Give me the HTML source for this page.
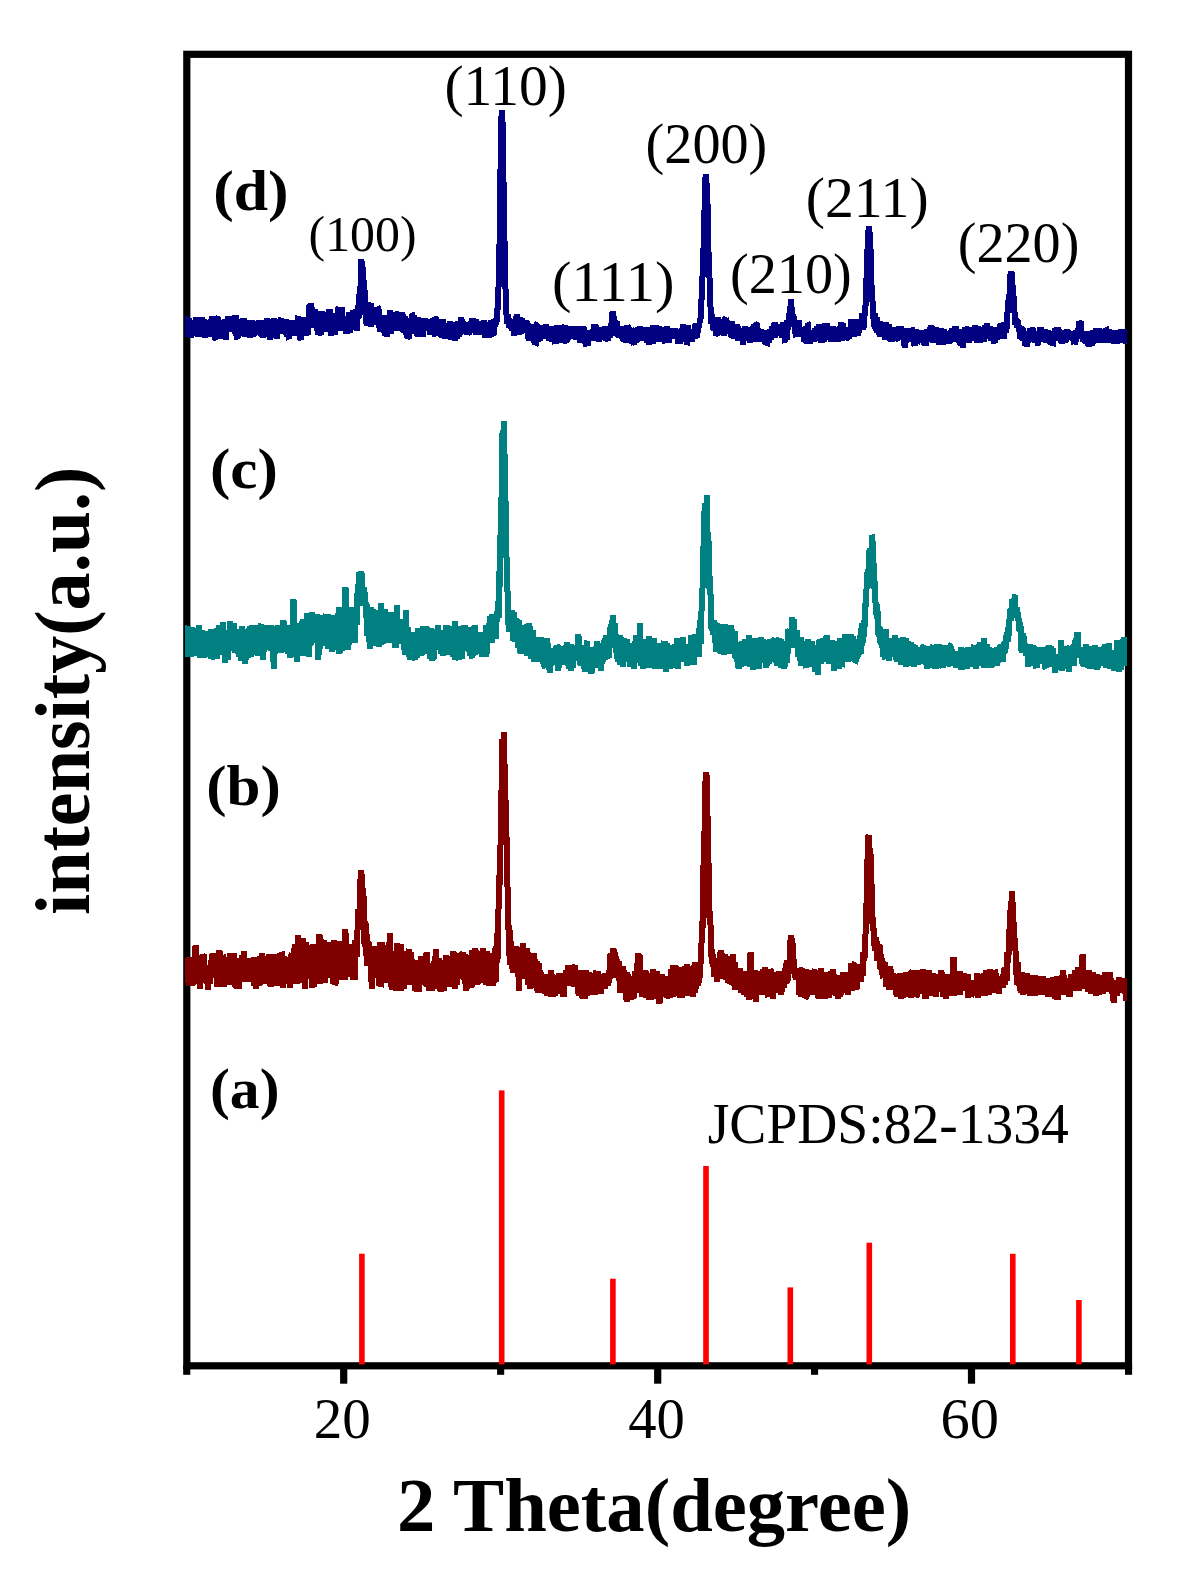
<!DOCTYPE html>
<html><head><meta charset="utf-8"><title>XRD</title>
<style>html,body{margin:0;padding:0;background:#fff}svg{display:block}</style></head>
<body>
<svg width="1179" height="1590" viewBox="0 0 1179 1590">
<rect width="1179" height="1590" fill="#fff"/>
<rect x="186.8" y="54.3" width="941.7" height="1311.5" fill="none" stroke="#000" stroke-width="7.2"/>
<g fill="#000">
<rect x="340.1" y="1365" width="7.2" height="18.7"/>
<rect x="654.1" y="1365" width="7.2" height="18.7"/>
<rect x="967.9" y="1365" width="7.2" height="18.7"/>
<rect x="183.2" y="1365" width="7.1" height="9.8"/>
<rect x="497.1" y="1365" width="7.1" height="9.8"/>
<rect x="811.0" y="1365" width="7.1" height="9.8"/>
<rect x="1125.0" y="1365" width="7.1" height="9.8"/>
</g>
<g fill="#ff0000">
<rect x="359.1" y="1253.7" width="5.6" height="110.7"/>
<rect x="498.9" y="1090.4" width="5.6" height="274.0"/>
<rect x="610.1" y="1278.7" width="5.6" height="85.7"/>
<rect x="703.2" y="1166.0" width="5.6" height="198.4"/>
<rect x="787.5" y="1287.4" width="5.6" height="77.0"/>
<rect x="866.5" y="1242.7" width="5.6" height="121.7"/>
<rect x="1010.0" y="1253.8" width="5.6" height="110.6"/>
<rect x="1076.1" y="1300.0" width="5.6" height="64.4"/>
</g>
<clipPath id="cp"><rect x="185" y="58" width="942" height="1304"/></clipPath>
<g clip-path="url(#cp)" shape-rendering="crispEdges" fill="none" stroke-linejoin="miter" stroke-miterlimit="2" stroke-linecap="butt" stroke-width="6.0">
<path stroke="#000080" d="M183.0 323.1L183.4 330.9L183.8 332.6L184.2 320.1L184.6 321.2L185.0 337.2L185.4 317.3L185.8 317.8L186.2 333.9L186.6 327.2L187.0 321.9L187.4 324.5L187.8 327.4L188.2 320.1L188.6 318.1L189.0 332.1L189.4 331.0L189.8 328.9L190.2 335.7L190.6 330.3L191.0 338.3L191.4 321.8L191.8 328.0L192.2 326.1L192.6 323.5L193.0 328.7L193.4 322.1L193.8 333.9L194.2 335.2L194.6 319.8L195.0 325.6L195.4 321.0L195.8 317.0L196.2 333.7L196.6 325.2L197.0 320.3L197.4 331.5L197.8 322.6L198.2 337.0L198.6 323.5L199.0 320.0L199.4 323.3L199.8 326.1L200.2 328.3L200.6 336.5L201.0 331.8L201.4 324.3L201.8 317.6L202.2 320.5L202.6 337.4L203.0 327.2L203.4 332.7L203.8 320.9L204.2 321.2L204.6 338.1L205.0 333.5L205.4 328.2L205.8 328.3L206.2 323.4L206.6 324.6L207.0 321.2L207.4 337.1L207.8 329.2L208.2 322.1L208.6 334.2L209.0 323.3L209.4 320.6L209.8 331.2L210.2 337.0L210.6 319.4L211.0 334.6L211.4 321.8L211.8 319.1L212.2 316.7L212.6 321.2L213.0 329.0L213.4 323.9L213.8 331.4L214.2 319.5L214.6 322.6L215.0 322.9L215.4 338.7L215.8 339.0L216.2 327.2L216.6 328.7L217.0 325.3L217.4 332.9L217.8 317.6L218.2 317.2L218.6 323.3L219.0 319.8L219.4 332.0L219.8 330.5L220.2 327.3L220.6 330.5L221.0 332.1L221.4 334.9L221.8 338.5L222.2 323.3L222.6 332.5L223.0 322.1L223.4 327.2L223.8 333.3L224.2 335.2L224.6 332.7L225.0 318.9L225.4 326.2L225.8 322.9L226.2 339.7L226.6 321.9L227.0 322.5L227.4 323.1L227.8 315.7L228.2 330.9L228.6 325.8L229.0 316.3L229.4 323.4L229.8 315.7L230.2 327.2L230.6 320.5L231.0 317.4L231.4 319.7L231.8 329.3L232.2 331.6L232.6 325.6L233.0 331.7L233.4 325.3L233.8 320.0L234.2 322.7L234.6 323.6L235.0 333.6L235.4 317.8L235.8 317.8L236.2 328.4L236.6 337.9L237.0 338.3L237.4 335.5L237.8 323.5L238.2 338.3L238.6 318.9L239.0 323.5L239.4 328.9L239.8 319.7L240.2 334.3L240.6 332.6L241.0 334.5L241.4 333.9L241.8 324.0L242.2 333.9L242.6 322.1L243.0 318.5L243.4 322.0L243.8 322.8L244.2 317.8L244.6 337.2L245.0 325.2L245.4 319.7L245.8 329.4L246.2 325.8L246.6 334.4L247.0 325.8L247.4 335.8L247.8 327.8L248.2 330.1L248.6 332.2L249.0 329.0L249.4 323.8L249.8 338.2L250.2 320.5L250.6 325.2L251.0 330.0L251.4 319.9L251.8 322.7L252.2 335.5L252.6 335.0L253.0 331.8L253.4 337.0L253.8 334.0L254.2 325.0L254.6 332.3L255.0 326.5L255.4 334.4L255.8 326.4L256.2 320.9L256.6 334.6L257.0 330.5L257.4 331.7L257.8 328.5L258.2 333.6L258.6 327.4L259.0 330.0L259.4 319.9L259.8 329.7L260.2 334.9L260.6 333.0L261.0 335.3L261.4 329.4L261.8 337.2L262.2 321.9L262.6 337.5L263.0 327.8L263.4 322.5L263.8 333.4L264.2 330.0L264.6 328.9L265.0 336.1L265.4 320.3L265.8 328.4L266.2 323.4L266.6 325.4L267.0 325.0L267.4 318.4L267.8 327.2L268.2 335.8L268.6 323.3L269.0 337.2L269.4 322.6L269.8 330.2L270.2 339.9L270.6 320.3L271.0 338.0L271.4 327.9L271.8 319.2L272.2 325.2L272.6 321.4L273.0 331.8L273.4 328.4L273.8 318.5L274.2 322.3L274.6 318.7L275.0 332.3L275.4 326.1L275.8 326.2L276.2 333.7L276.6 338.9L277.0 321.3L277.4 322.8L277.8 326.8L278.2 329.5L278.6 320.6L279.0 320.0L279.4 323.2L279.8 326.6L280.2 333.8L280.6 331.2L281.0 319.1L281.4 318.6L281.8 325.7L282.2 333.0L282.6 332.6L283.0 320.8L283.4 330.8L283.8 331.8L284.2 321.7L284.6 329.1L285.0 322.3L285.4 319.0L285.8 328.3L286.2 319.4L286.6 331.5L287.0 334.4L287.4 336.3L287.8 326.8L288.2 320.2L288.6 336.3L289.0 336.1L289.4 338.3L289.8 330.9L290.2 332.4L290.6 326.4L291.0 322.6L291.4 324.9L291.8 333.6L292.2 325.6L292.6 332.7L293.0 328.4L293.4 326.6L293.8 336.3L294.2 320.0L294.6 326.4L295.0 320.0L295.4 335.9L295.8 327.2L296.2 324.1L296.6 320.5L297.0 328.4L297.4 323.7L297.8 317.8L298.2 316.0L298.6 323.8L299.0 328.8L299.4 328.9L299.8 337.8L300.2 338.9L300.6 339.6L301.0 336.4L301.4 329.0L301.8 329.4L302.2 326.4L302.6 326.5L303.0 318.3L303.4 336.2L303.8 322.8L304.2 317.3L304.6 328.3L305.0 335.2L305.4 328.8L305.8 327.6L306.2 336.0L306.6 323.0L307.0 318.4L307.4 332.4L307.8 328.5L308.2 334.8L308.6 320.4L309.0 328.2L309.4 305.9L309.8 304.8L310.2 319.1L310.6 308.3L311.0 303.7L311.4 305.1L311.8 311.5L312.2 310.7L312.6 317.6L313.0 327.9L313.4 315.7L313.8 312.4L314.2 324.1L314.6 309.6L315.0 320.4L315.4 318.9L315.8 320.4L316.2 310.7L316.6 323.5L317.0 325.3L317.4 328.9L317.8 334.7L318.2 319.0L318.6 327.3L319.0 321.6L319.4 315.3L319.8 333.0L320.2 329.4L320.6 335.0L321.0 332.3L321.4 335.3L321.8 314.4L322.2 311.5L322.6 316.5L323.0 322.4L323.4 329.7L323.8 323.0L324.2 324.9L324.6 331.2L325.0 312.4L325.4 328.6L325.8 312.2L326.2 318.2L326.6 331.3L327.0 330.2L327.4 322.3L327.8 318.5L328.2 331.7L328.6 316.0L329.0 308.9L329.4 314.6L329.8 309.1L330.2 330.6L330.6 312.7L331.0 335.9L331.4 316.1L331.8 318.6L332.2 326.2L332.6 319.2L333.0 321.9L333.4 315.3L333.8 323.2L334.2 313.4L334.6 317.9L335.0 335.0L335.4 316.9L335.8 315.4L336.2 325.5L336.6 330.7L337.0 315.1L337.4 317.0L337.8 307.6L338.2 327.2L338.6 322.2L339.0 310.5L339.4 310.7L339.8 326.3L340.2 325.1L340.6 330.3L341.0 327.3L341.4 317.9L341.8 310.4L342.2 307.0L342.6 325.7L343.0 322.6L343.4 325.6L343.8 317.8L344.2 316.8L344.6 323.0L345.0 320.7L345.4 327.2L345.8 333.7L346.2 331.5L346.6 319.4L347.0 319.3L347.4 334.4L347.8 320.4L348.2 331.1L348.6 311.9L349.0 321.1L349.4 322.8L349.8 330.7L350.2 332.7L350.6 313.7L351.0 326.1L351.4 326.0L351.8 312.3L352.2 329.1L352.6 320.3L353.0 330.4L353.4 309.6L353.8 319.1L354.2 314.4L354.6 323.7L355.0 323.6L355.4 321.5L355.8 316.7L356.2 321.6L356.6 318.0L357.0 331.4L357.4 319.0L357.8 317.6L358.2 308.9L358.6 304.5L359.0 317.7L359.4 294.1L359.8 301.4L360.2 286.2L360.6 288.5L361.0 259.5L361.4 274.7L361.8 267.1L362.2 261.6L362.6 268.5L363.0 275.0L363.4 276.4L363.8 290.9L364.2 289.1L364.6 290.9L365.0 313.5L365.4 311.2L365.8 324.1L366.2 307.3L366.6 321.7L367.0 325.6L367.4 322.8L367.8 324.4L368.2 303.1L368.6 303.8L369.0 306.2L369.4 310.7L369.8 304.9L370.2 306.4L370.6 303.3L371.0 327.0L371.4 312.1L371.8 318.9L372.2 314.9L372.6 322.6L373.0 324.6L373.4 314.6L373.8 318.2L374.2 307.4L374.6 311.2L375.0 309.3L375.4 310.9L375.8 311.2L376.2 317.1L376.6 312.4L377.0 313.1L377.4 325.2L377.8 307.6L378.2 307.9L378.6 309.6L379.0 328.2L379.4 323.6L379.8 326.1L380.2 331.5L380.6 315.4L381.0 331.5L381.4 317.1L381.8 324.0L382.2 328.7L382.6 332.2L383.0 320.5L383.4 325.5L383.8 315.6L384.2 320.7L384.6 336.0L385.0 334.5L385.4 327.8L385.8 332.7L386.2 335.5L386.6 322.7L387.0 336.5L387.4 323.6L387.8 316.2L388.2 323.6L388.6 324.1L389.0 325.5L389.4 324.5L389.8 310.3L390.2 323.8L390.6 330.7L391.0 326.1L391.4 333.7L391.8 323.7L392.2 329.9L392.6 313.6L393.0 328.5L393.4 316.7L393.8 325.7L394.2 313.4L394.6 321.0L395.0 327.5L395.4 326.1L395.8 325.3L396.2 311.8L396.6 313.5L397.0 313.1L397.4 322.4L397.8 331.2L398.2 325.2L398.6 316.9L399.0 312.6L399.4 320.3L399.8 320.9L400.2 320.4L400.6 323.5L401.0 315.6L401.4 329.1L401.8 315.9L402.2 312.1L402.6 317.9L403.0 331.5L403.4 314.8L403.8 318.1L404.2 333.2L404.6 321.1L405.0 332.8L405.4 315.6L405.8 334.7L406.2 320.5L406.6 319.6L407.0 332.4L407.4 338.1L407.8 337.7L408.2 333.3L408.6 337.0L409.0 338.4L409.4 328.2L409.8 318.0L410.2 332.5L410.6 321.7L411.0 319.6L411.4 323.9L411.8 314.2L412.2 314.5L412.6 320.2L413.0 327.3L413.4 330.3L413.8 334.1L414.2 314.7L414.6 333.0L415.0 327.1L415.4 330.0L415.8 328.6L416.2 320.1L416.6 321.2L417.0 336.2L417.4 325.7L417.8 337.2L418.2 317.5L418.6 320.0L419.0 329.5L419.4 326.3L419.8 318.6L420.2 322.0L420.6 323.0L421.0 324.4L421.4 332.1L421.8 322.2L422.2 327.7L422.6 330.7L423.0 337.0L423.4 320.6L423.8 319.5L424.2 321.3L424.6 321.6L425.0 320.4L425.4 318.8L425.8 321.5L426.2 321.9L426.6 327.2L427.0 330.8L427.4 325.5L427.8 321.7L428.2 320.2L428.6 323.4L429.0 321.5L429.4 327.3L429.8 334.8L430.2 331.8L430.6 322.1L431.0 319.1L431.4 320.1L431.8 327.6L432.2 326.7L432.6 333.5L433.0 322.6L433.4 326.6L433.8 335.3L434.2 332.6L434.6 330.6L435.0 336.4L435.4 319.2L435.8 319.1L436.2 319.2L436.6 325.1L437.0 333.5L437.4 334.1L437.8 327.3L438.2 331.1L438.6 330.2L439.0 319.7L439.4 329.3L439.8 324.2L440.2 326.1L440.6 319.8L441.0 320.6L441.4 337.4L441.8 334.8L442.2 335.3L442.6 325.9L443.0 319.3L443.4 323.5L443.8 331.8L444.2 336.5L444.6 335.3L445.0 338.4L445.4 325.4L445.8 334.2L446.2 323.6L446.6 332.3L447.0 324.8L447.4 333.6L447.8 333.4L448.2 328.8L448.6 327.7L449.0 333.6L449.4 328.2L449.8 326.5L450.2 321.1L450.6 325.0L451.0 336.7L451.4 339.3L451.8 327.2L452.2 336.3L452.6 335.7L453.0 322.6L453.4 324.1L453.8 333.4L454.2 327.3L454.6 341.2L455.0 330.3L455.4 337.4L455.8 336.3L456.2 325.6L456.6 337.6L457.0 325.9L457.4 338.8L457.8 320.8L458.2 329.1L458.6 333.0L459.0 326.0L459.4 336.7L459.8 324.6L460.2 334.6L460.6 317.5L461.0 320.8L461.4 318.0L461.8 323.2L462.2 321.1L462.6 322.1L463.0 331.1L463.4 326.0L463.8 326.7L464.2 322.7L464.6 331.1L465.0 325.4L465.4 330.5L465.8 334.1L466.2 328.5L466.6 325.3L467.0 322.3L467.4 335.1L467.8 332.7L468.2 333.6L468.6 322.4L469.0 326.5L469.4 335.1L469.8 322.5L470.2 333.2L470.6 327.4L471.0 321.0L471.4 324.1L471.8 318.5L472.2 330.5L472.6 331.8L473.0 318.5L473.4 323.8L473.8 332.7L474.2 321.2L474.6 327.4L475.0 332.5L475.4 328.1L475.8 319.5L476.2 334.9L476.6 331.9L477.0 328.9L477.4 325.2L477.8 331.2L478.2 328.7L478.6 324.2L479.0 324.5L479.4 322.6L479.8 324.1L480.2 324.6L480.6 331.5L481.0 330.1L481.4 330.3L481.8 335.0L482.2 321.0L482.6 326.9L483.0 321.0L483.4 327.9L483.8 321.7L484.2 320.9L484.6 323.8L485.0 330.2L485.4 337.7L485.8 328.1L486.2 336.6L486.6 326.4L487.0 327.4L487.4 331.1L487.8 323.7L488.2 331.2L488.6 333.9L489.0 338.2L489.4 322.3L489.8 335.7L490.2 330.4L490.6 330.2L491.0 320.1L491.4 336.6L491.8 325.1L492.2 330.1L492.6 329.2L493.0 335.4L493.4 328.2L493.8 334.6L494.2 318.8L494.6 326.2L495.0 323.8L495.4 322.1L495.8 324.1L496.2 322.3L496.6 317.4L497.0 321.7L497.4 307.7L497.8 309.7L498.2 300.4L498.6 283.3L499.0 273.5L499.4 254.6L499.8 219.0L500.2 194.7L500.6 162.1L501.0 147.3L501.4 118.1L501.8 110.4L502.2 114.5L502.6 124.7L503.0 135.5L503.4 178.3L503.8 192.1L504.2 227.1L504.6 244.8L505.0 273.4L505.4 285.4L505.8 296.9L506.2 308.3L506.6 316.0L507.0 319.7L507.4 323.7L507.8 317.0L508.2 314.8L508.6 319.1L509.0 321.4L509.4 327.7L509.8 324.7L510.2 323.3L510.6 319.5L511.0 329.3L511.4 319.7L511.8 327.3L512.2 330.5L512.6 329.2L513.0 320.3L513.4 324.4L513.8 336.0L514.2 319.4L514.6 330.3L515.0 324.7L515.4 327.2L515.8 322.0L516.2 316.2L516.6 324.6L517.0 313.9L517.4 330.9L517.8 330.0L518.2 322.1L518.6 325.6L519.0 325.7L519.4 334.8L519.8 316.9L520.2 322.2L520.6 324.7L521.0 332.5L521.4 331.7L521.8 326.0L522.2 318.3L522.6 331.0L523.0 326.8L523.4 321.6L523.8 332.0L524.2 328.5L524.6 325.5L525.0 323.9L525.4 327.4L525.8 320.7L526.2 322.4L526.6 332.7L527.0 324.4L527.4 321.5L527.8 328.5L528.2 338.0L528.6 338.5L529.0 335.7L529.4 340.3L529.8 337.3L530.2 335.4L530.6 329.9L531.0 323.8L531.4 334.1L531.8 331.5L532.2 337.4L532.6 325.3L533.0 336.2L533.4 325.0L533.8 339.8L534.2 342.2L534.6 326.0L535.0 331.8L535.4 344.4L535.8 344.0L536.2 338.5L536.6 328.5L537.0 325.7L537.4 326.0L537.8 341.3L538.2 338.4L538.6 331.2L539.0 336.9L539.4 339.7L539.8 329.7L540.2 340.6L540.6 330.2L541.0 331.2L541.4 325.9L541.8 327.6L542.2 334.2L542.6 324.8L543.0 334.4L543.4 328.0L543.8 338.4L544.2 327.2L544.6 328.1L545.0 328.4L545.4 333.0L545.8 336.1L546.2 324.6L546.6 334.6L547.0 334.2L547.4 332.7L547.8 330.1L548.2 328.2L548.6 341.0L549.0 333.2L549.4 337.2L549.8 326.5L550.2 331.7L550.6 327.7L551.0 333.1L551.4 340.8L551.8 334.7L552.2 341.4L552.6 331.6L553.0 336.1L553.4 336.2L553.8 337.8L554.2 332.6L554.6 340.9L555.0 344.2L555.4 325.7L555.8 328.3L556.2 335.7L556.6 332.6L557.0 336.4L557.4 327.9L557.8 324.9L558.2 334.3L558.6 343.4L559.0 326.0L559.4 331.8L559.8 331.6L560.2 336.5L560.6 334.7L561.0 324.8L561.4 327.9L561.8 336.5L562.2 331.6L562.6 329.0L563.0 340.6L563.4 338.4L563.8 329.3L564.2 332.6L564.6 325.0L565.0 328.2L565.4 341.8L565.8 342.7L566.2 341.0L566.6 341.1L567.0 341.6L567.4 339.1L567.8 339.5L568.2 332.2L568.6 337.8L569.0 338.5L569.4 334.0L569.8 336.4L570.2 331.7L570.6 337.6L571.0 336.5L571.4 325.9L571.8 338.6L572.2 330.6L572.6 327.3L573.0 328.1L573.4 331.6L573.8 334.9L574.2 331.2L574.6 328.6L575.0 338.3L575.4 331.2L575.8 340.1L576.2 328.9L576.6 336.5L577.0 330.1L577.4 338.4L577.8 334.7L578.2 335.7L578.6 326.1L579.0 338.9L579.4 332.8L579.8 340.4L580.2 342.4L580.6 329.2L581.0 326.8L581.4 339.6L581.8 326.3L582.2 342.0L582.6 333.8L583.0 341.0L583.4 326.9L583.8 328.0L584.2 337.9L584.6 337.7L585.0 343.6L585.4 333.3L585.8 337.3L586.2 346.4L586.6 333.9L587.0 335.6L587.4 339.2L587.8 346.0L588.2 331.3L588.6 339.9L589.0 334.4L589.4 333.5L589.8 330.4L590.2 333.6L590.6 334.8L591.0 330.7L591.4 331.9L591.8 333.6L592.2 337.2L592.6 332.3L593.0 329.7L593.4 340.6L593.8 326.7L594.2 324.0L594.6 338.4L595.0 326.3L595.4 324.1L595.8 328.8L596.2 328.9L596.6 330.1L597.0 339.8L597.4 330.4L597.8 327.7L598.2 328.9L598.6 341.6L599.0 332.0L599.4 330.4L599.8 337.3L600.2 339.9L600.6 332.2L601.0 337.9L601.4 328.5L601.8 330.6L602.2 335.1L602.6 329.2L603.0 329.7L603.4 327.6L603.8 328.4L604.2 338.3L604.6 337.6L605.0 325.9L605.4 330.7L605.8 338.0L606.2 341.0L606.6 335.9L607.0 338.9L607.4 330.1L607.8 339.8L608.2 340.7L608.6 333.6L609.0 330.7L609.4 327.1L609.8 337.2L610.2 336.0L610.6 322.9L611.0 329.7L611.4 334.2L611.8 315.0L612.2 314.4L612.6 311.4L613.0 317.8L613.4 318.0L613.8 328.7L614.2 316.6L614.6 320.9L615.0 335.5L615.4 320.2L615.8 325.0L616.2 327.8L616.6 321.2L617.0 327.0L617.4 333.7L617.8 335.0L618.2 335.8L618.6 337.0L619.0 336.4L619.4 325.7L619.8 336.0L620.2 333.8L620.6 326.7L621.0 330.0L621.4 327.0L621.8 338.9L622.2 329.5L622.6 328.5L623.0 340.4L623.4 339.8L623.8 341.3L624.2 337.9L624.6 333.2L625.0 334.2L625.4 335.7L625.8 336.7L626.2 343.1L626.6 330.8L627.0 339.1L627.4 324.9L627.8 327.2L628.2 340.0L628.6 327.3L629.0 331.7L629.4 338.8L629.8 334.3L630.2 331.5L630.6 335.7L631.0 341.1L631.4 341.3L631.8 329.0L632.2 329.5L632.6 333.4L633.0 331.8L633.4 343.4L633.8 344.8L634.2 332.2L634.6 330.3L635.0 333.6L635.4 338.6L635.8 338.7L636.2 332.1L636.6 334.8L637.0 340.0L637.4 339.9L637.8 327.0L638.2 337.9L638.6 339.0L639.0 340.9L639.4 331.5L639.8 326.0L640.2 331.1L640.6 329.4L641.0 330.4L641.4 338.3L641.8 336.2L642.2 337.3L642.6 337.4L643.0 328.7L643.4 327.3L643.8 333.0L644.2 340.4L644.6 335.9L645.0 337.7L645.4 334.0L645.8 336.4L646.2 340.2L646.6 335.7L647.0 339.4L647.4 342.7L647.8 339.8L648.2 342.0L648.6 329.4L649.0 328.8L649.4 344.5L649.8 332.0L650.2 332.6L650.6 329.1L651.0 337.7L651.4 326.9L651.8 340.6L652.2 331.9L652.6 325.4L653.0 343.5L653.4 339.9L653.8 335.0L654.2 337.9L654.6 341.1L655.0 337.8L655.4 329.3L655.8 325.2L656.2 341.4L656.6 337.7L657.0 328.5L657.4 337.5L657.8 337.9L658.2 331.9L658.6 341.5L659.0 329.1L659.4 326.9L659.8 329.4L660.2 329.8L660.6 339.6L661.0 336.0L661.4 327.2L661.8 332.7L662.2 328.1L662.6 339.0L663.0 341.7L663.4 328.0L663.8 334.9L664.2 330.0L664.6 330.5L665.0 338.9L665.4 343.3L665.8 331.1L666.2 335.6L666.6 331.1L667.0 326.3L667.4 335.8L667.8 328.0L668.2 337.6L668.6 343.1L669.0 328.7L669.4 336.9L669.8 329.8L670.2 339.2L670.6 330.3L671.0 337.2L671.4 336.4L671.8 335.0L672.2 328.4L672.6 339.1L673.0 330.1L673.4 337.0L673.8 331.2L674.2 330.3L674.6 334.9L675.0 328.4L675.4 335.9L675.8 330.1L676.2 335.0L676.6 334.1L677.0 338.9L677.4 330.5L677.8 330.9L678.2 343.9L678.6 336.7L679.0 335.7L679.4 340.7L679.8 332.0L680.2 343.6L680.6 338.9L681.0 336.1L681.4 329.0L681.8 337.7L682.2 339.0L682.6 336.3L683.0 338.4L683.4 324.3L683.8 336.5L684.2 339.6L684.6 333.5L685.0 327.3L685.4 336.2L685.8 331.6L686.2 328.5L686.6 345.0L687.0 343.3L687.4 339.6L687.8 341.3L688.2 325.4L688.6 335.2L689.0 329.0L689.4 332.2L689.8 336.7L690.2 338.5L690.6 333.7L691.0 330.3L691.4 333.5L691.8 329.8L692.2 342.3L692.6 329.3L693.0 332.4L693.4 335.2L693.8 330.1L694.2 334.2L694.6 334.4L695.0 324.4L695.4 339.1L695.8 330.7L696.2 323.2L696.6 338.1L697.0 323.8L697.4 333.8L697.8 329.4L698.2 325.1L698.6 326.6L699.0 327.4L699.4 324.0L699.8 319.8L700.2 320.4L700.6 317.3L701.0 317.1L701.4 302.4L701.8 292.1L702.2 296.7L702.6 271.6L703.0 267.9L703.4 251.1L703.8 242.3L704.2 212.4L704.6 210.2L705.0 184.8L705.4 177.4L705.8 182.0L706.2 173.8L706.6 186.0L707.0 196.1L707.4 197.8L707.8 223.3L708.2 231.8L708.6 257.0L709.0 255.3L709.4 271.0L709.8 293.5L710.2 297.9L710.6 309.1L711.0 324.2L711.4 317.9L711.8 314.5L712.2 316.8L712.6 324.3L713.0 328.3L713.4 328.6L713.8 324.3L714.2 321.4L714.6 320.6L715.0 323.3L715.4 323.3L715.8 335.6L716.2 326.0L716.6 319.9L717.0 328.2L717.4 324.5L717.8 316.9L718.2 334.4L718.6 334.8L719.0 323.6L719.4 334.4L719.8 327.7L720.2 331.1L720.6 329.9L721.0 330.4L721.4 324.6L721.8 319.1L722.2 331.0L722.6 325.0L723.0 325.5L723.4 331.5L723.8 330.4L724.2 336.0L724.6 325.5L725.0 330.0L725.4 320.2L725.8 320.4L726.2 322.3L726.6 322.0L727.0 324.3L727.4 320.0L727.8 332.2L728.2 322.9L728.6 322.2L729.0 331.6L729.4 330.1L729.8 330.3L730.2 333.6L730.6 331.3L731.0 324.7L731.4 337.3L731.8 321.5L732.2 337.7L732.6 330.1L733.0 329.3L733.4 332.0L733.8 330.7L734.2 338.9L734.6 337.7L735.0 336.4L735.4 327.1L735.8 330.8L736.2 324.5L736.6 336.6L737.0 324.2L737.4 330.6L737.8 326.4L738.2 339.1L738.6 340.4L739.0 329.3L739.4 339.8L739.8 327.8L740.2 337.9L740.6 330.4L741.0 334.5L741.4 338.0L741.8 333.8L742.2 331.4L742.6 338.3L743.0 341.6L743.4 344.8L743.8 332.6L744.2 331.5L744.6 328.2L745.0 330.2L745.4 326.7L745.8 330.3L746.2 338.6L746.6 327.7L747.0 337.3L747.4 331.4L747.8 330.7L748.2 335.7L748.6 335.1L749.0 335.4L749.4 329.5L749.8 337.2L750.2 343.0L750.6 327.0L751.0 328.1L751.4 336.9L751.8 331.6L752.2 329.8L752.6 342.1L753.0 329.5L753.4 339.9L753.8 334.3L754.2 323.9L754.6 328.4L755.0 325.2L755.4 333.4L755.8 340.1L756.2 324.9L756.6 324.6L757.0 324.9L757.4 329.6L757.8 327.8L758.2 342.0L758.6 338.2L759.0 340.6L759.4 334.1L759.8 338.8L760.2 337.7L760.6 331.3L761.0 338.6L761.4 332.7L761.8 336.0L762.2 342.2L762.6 331.1L763.0 329.9L763.4 341.9L763.8 335.3L764.2 330.7L764.6 333.5L765.0 332.9L765.4 343.9L765.8 336.5L766.2 344.7L766.6 336.8L767.0 345.1L767.4 344.6L767.8 338.4L768.2 342.4L768.6 333.5L769.0 342.4L769.4 338.9L769.8 328.7L770.2 335.2L770.6 336.7L771.0 338.1L771.4 339.3L771.8 326.2L772.2 337.5L772.6 330.7L773.0 332.7L773.4 329.7L773.8 336.6L774.2 327.0L774.6 322.3L775.0 337.5L775.4 335.0L775.8 336.2L776.2 325.7L776.6 327.2L777.0 334.7L777.4 324.4L777.8 335.6L778.2 334.5L778.6 335.3L779.0 325.8L779.4 330.5L779.8 327.7L780.2 334.6L780.6 330.6L781.0 334.3L781.4 334.0L781.8 337.6L782.2 336.4L782.6 321.7L783.0 332.6L783.4 327.8L783.8 324.1L784.2 332.2L784.6 340.0L785.0 339.9L785.4 327.7L785.8 328.7L786.2 336.2L786.6 339.5L787.0 322.1L787.4 320.8L787.8 329.8L788.2 326.4L788.6 327.3L789.0 313.3L789.4 315.1L789.8 317.3L790.2 307.2L790.6 305.8L791.0 298.7L791.4 312.9L791.8 308.2L792.2 309.0L792.6 316.1L793.0 321.5L793.4 323.4L793.8 315.7L794.2 322.4L794.6 320.9L795.0 331.5L795.4 333.3L795.8 333.0L796.2 336.9L796.6 331.3L797.0 331.6L797.4 323.4L797.8 332.3L798.2 324.6L798.6 329.7L799.0 320.4L799.4 328.2L799.8 332.6L800.2 333.2L800.6 332.3L801.0 327.3L801.4 335.1L801.8 336.0L802.2 335.3L802.6 332.2L803.0 328.7L803.4 336.1L803.8 327.0L804.2 342.0L804.6 331.4L805.0 329.6L805.4 332.2L805.8 326.1L806.2 340.6L806.6 343.2L807.0 341.4L807.4 337.9L807.8 323.8L808.2 324.1L808.6 337.2L809.0 331.7L809.4 335.7L809.8 344.2L810.2 338.9L810.6 336.2L811.0 335.6L811.4 337.5L811.8 337.7L812.2 335.8L812.6 337.6L813.0 331.0L813.4 337.4L813.8 341.5L814.2 333.0L814.6 333.0L815.0 341.4L815.4 328.5L815.8 328.8L816.2 339.3L816.6 326.4L817.0 329.2L817.4 339.7L817.8 330.5L818.2 337.5L818.6 336.6L819.0 323.8L819.4 328.1L819.8 341.3L820.2 331.5L820.6 333.3L821.0 342.7L821.4 327.9L821.8 343.2L822.2 337.6L822.6 337.7L823.0 326.9L823.4 338.3L823.8 341.8L824.2 333.8L824.6 327.3L825.0 327.5L825.4 325.6L825.8 330.9L826.2 337.4L826.6 323.2L827.0 328.9L827.4 328.9L827.8 329.4L828.2 332.7L828.6 333.8L829.0 328.7L829.4 339.7L829.8 334.8L830.2 331.6L830.6 342.0L831.0 337.1L831.4 327.5L831.8 342.2L832.2 335.6L832.6 331.6L833.0 329.8L833.4 326.5L833.8 329.3L834.2 329.8L834.6 330.4L835.0 341.6L835.4 334.6L835.8 327.9L836.2 331.7L836.6 333.5L837.0 327.8L837.4 334.7L837.8 335.0L838.2 341.5L838.6 332.3L839.0 336.2L839.4 335.6L839.8 326.5L840.2 333.4L840.6 331.0L841.0 325.5L841.4 322.5L841.8 340.9L842.2 322.6L842.6 336.7L843.0 327.7L843.4 323.1L843.8 339.5L844.2 334.9L844.6 331.1L845.0 339.4L845.4 337.4L845.8 332.2L846.2 337.4L846.6 337.5L847.0 327.0L847.4 335.9L847.8 338.6L848.2 333.8L848.6 335.2L849.0 338.3L849.4 334.7L849.8 329.0L850.2 330.7L850.6 334.4L851.0 332.0L851.4 322.0L851.8 322.0L852.2 326.1L852.6 336.3L853.0 326.1L853.4 327.9L853.8 336.6L854.2 323.6L854.6 325.4L855.0 324.3L855.4 320.1L855.8 332.4L856.2 325.0L856.6 326.9L857.0 326.1L857.4 321.8L857.8 335.9L858.2 318.9L858.6 325.4L859.0 332.4L859.4 325.1L859.8 327.2L860.2 323.3L860.6 326.8L861.0 321.8L861.4 323.8L861.8 315.4L862.2 315.1L862.6 323.3L863.0 328.0L863.4 329.9L863.8 324.4L864.2 316.5L864.6 314.9L865.0 310.7L865.4 306.0L865.8 303.9L866.2 284.4L866.6 276.9L867.0 272.6L867.4 252.1L867.8 240.2L868.2 246.6L868.6 225.7L869.0 239.1L869.4 240.6L869.8 231.6L870.2 249.1L870.6 249.7L871.0 259.4L871.4 282.8L871.8 291.7L872.2 299.2L872.6 301.8L873.0 318.4L873.4 315.9L873.8 326.5L874.2 323.9L874.6 313.0L875.0 327.1L875.4 328.5L875.8 330.0L876.2 326.3L876.6 316.9L877.0 332.6L877.4 325.6L877.8 322.3L878.2 323.2L878.6 323.6L879.0 334.9L879.4 322.0L879.8 337.1L880.2 321.0L880.6 333.4L881.0 324.3L881.4 329.0L881.8 322.9L882.2 336.0L882.6 323.2L883.0 329.5L883.4 333.0L883.8 331.3L884.2 327.8L884.6 329.1L885.0 340.0L885.4 324.8L885.8 322.2L886.2 337.7L886.6 337.3L887.0 334.1L887.4 330.9L887.8 340.0L888.2 330.8L888.6 323.9L889.0 331.5L889.4 333.4L889.8 334.4L890.2 341.1L890.6 327.3L891.0 342.2L891.4 337.0L891.8 341.3L892.2 335.8L892.6 333.6L893.0 333.8L893.4 331.8L893.8 333.9L894.2 335.6L894.6 339.1L895.0 327.2L895.4 332.3L895.8 334.2L896.2 339.7L896.6 338.1L897.0 336.7L897.4 337.5L897.8 333.3L898.2 339.4L898.6 339.8L899.0 334.7L899.4 326.4L899.8 331.5L900.2 328.4L900.6 327.0L901.0 328.9L901.4 338.6L901.8 330.9L902.2 333.0L902.6 333.0L903.0 330.3L903.4 338.0L903.8 336.1L904.2 346.2L904.6 341.1L905.0 347.8L905.4 345.6L905.8 338.5L906.2 329.2L906.6 331.7L907.0 328.9L907.4 339.0L907.8 327.8L908.2 336.7L908.6 331.1L909.0 334.2L909.4 339.3L909.8 331.1L910.2 328.6L910.6 330.5L911.0 342.1L911.4 335.6L911.8 331.7L912.2 330.4L912.6 330.3L913.0 336.0L913.4 341.3L913.8 338.3L914.2 343.8L914.6 346.1L915.0 337.8L915.4 333.4L915.8 341.4L916.2 329.0L916.6 341.3L917.0 343.9L917.4 342.1L917.8 330.0L918.2 338.4L918.6 342.3L919.0 335.4L919.4 343.2L919.8 331.1L920.2 337.3L920.6 337.7L921.0 341.6L921.4 334.8L921.8 331.9L922.2 340.1L922.6 329.9L923.0 334.9L923.4 337.3L923.8 343.4L924.2 343.9L924.6 339.9L925.0 341.8L925.4 341.3L925.8 345.9L926.2 336.8L926.6 338.6L927.0 328.8L927.4 331.9L927.8 333.0L928.2 332.5L928.6 337.9L929.0 331.8L929.4 337.7L929.8 341.3L930.2 326.8L930.6 328.9L931.0 332.9L931.4 325.1L931.8 327.5L932.2 336.1L932.6 333.7L933.0 343.0L933.4 336.7L933.8 339.1L934.2 330.8L934.6 330.8L935.0 339.4L935.4 335.8L935.8 341.9L936.2 330.8L936.6 328.9L937.0 339.1L937.4 329.2L937.8 328.0L938.2 333.3L938.6 338.6L939.0 333.2L939.4 344.7L939.8 335.0L940.2 331.5L940.6 335.4L941.0 336.3L941.4 328.2L941.8 336.3L942.2 329.6L942.6 344.8L943.0 337.8L943.4 332.5L943.8 329.5L944.2 332.1L944.6 333.3L945.0 337.1L945.4 338.1L945.8 338.6L946.2 333.8L946.6 337.6L947.0 337.1L947.4 343.8L947.8 333.6L948.2 337.9L948.6 343.7L949.0 334.1L949.4 342.6L949.8 330.7L950.2 332.1L950.6 339.1L951.0 340.0L951.4 338.2L951.8 336.1L952.2 328.3L952.6 341.4L953.0 334.8L953.4 340.7L953.8 341.3L954.2 328.9L954.6 341.8L955.0 325.9L955.4 335.7L955.8 329.1L956.2 326.5L956.6 335.2L957.0 329.5L957.4 340.4L957.8 335.5L958.2 333.0L958.6 329.1L959.0 341.9L959.4 341.4L959.8 344.7L960.2 337.1L960.6 346.2L961.0 330.0L961.4 345.8L961.8 343.3L962.2 331.9L962.6 347.8L963.0 331.5L963.4 342.4L963.8 331.9L964.2 338.4L964.6 339.9L965.0 326.7L965.4 330.6L965.8 341.6L966.2 335.4L966.6 330.8L967.0 330.6L967.4 331.8L967.8 331.8L968.2 336.2L968.6 343.3L969.0 336.7L969.4 329.6L969.8 333.3L970.2 335.1L970.6 334.3L971.0 326.9L971.4 338.7L971.8 340.3L972.2 336.8L972.6 327.8L973.0 340.4L973.4 339.8L973.8 337.9L974.2 331.7L974.6 339.1L975.0 324.9L975.4 336.6L975.8 334.5L976.2 337.0L976.6 326.4L977.0 342.9L977.4 326.7L977.8 327.6L978.2 336.3L978.6 337.6L979.0 330.6L979.4 332.4L979.8 343.1L980.2 332.0L980.6 333.7L981.0 327.4L981.4 335.6L981.8 338.1L982.2 338.8L982.6 329.6L983.0 331.7L983.4 336.4L983.8 341.8L984.2 338.1L984.6 328.4L985.0 325.9L985.4 326.4L985.8 334.0L986.2 328.7L986.6 336.9L987.0 326.5L987.4 323.6L987.8 332.0L988.2 335.1L988.6 325.9L989.0 329.2L989.4 329.0L989.8 326.0L990.2 338.7L990.6 328.4L991.0 339.1L991.4 340.0L991.8 338.6L992.2 329.8L992.6 329.5L993.0 337.9L993.4 337.5L993.8 343.4L994.2 329.2L994.6 342.5L995.0 334.0L995.4 339.9L995.8 329.5L996.2 329.5L996.6 339.8L997.0 327.0L997.4 331.1L997.8 333.6L998.2 338.2L998.6 331.8L999.0 337.6L999.4 329.5L999.8 336.8L1000.2 324.2L1000.6 326.5L1001.0 323.8L1001.4 324.3L1001.8 335.7L1002.2 330.5L1002.6 335.8L1003.0 338.8L1003.4 324.6L1003.8 335.1L1004.2 339.0L1004.6 327.5L1005.0 323.6L1005.4 330.4L1005.8 331.2L1006.2 332.3L1006.6 327.9L1007.0 319.8L1007.4 313.2L1007.8 311.5L1008.2 308.4L1008.6 297.7L1009.0 294.1L1009.4 298.9L1009.8 285.0L1010.2 274.4L1010.6 279.7L1011.0 271.5L1011.4 273.6L1011.8 273.1L1012.2 272.2L1012.6 289.0L1013.0 292.8L1013.4 307.1L1013.8 295.9L1014.2 311.4L1014.6 313.1L1015.0 316.9L1015.4 324.8L1015.8 318.4L1016.2 322.7L1016.6 319.0L1017.0 327.6L1017.4 326.2L1017.8 320.2L1018.2 324.7L1018.6 328.8L1019.0 332.1L1019.4 324.8L1019.8 334.5L1020.2 338.4L1020.6 330.5L1021.0 326.6L1021.4 328.8L1021.8 339.9L1022.2 335.9L1022.6 329.0L1023.0 329.4L1023.4 340.6L1023.8 338.5L1024.2 339.5L1024.6 331.1L1025.0 345.8L1025.4 334.3L1025.8 336.4L1026.2 334.9L1026.6 346.5L1027.0 341.8L1027.4 340.7L1027.8 338.2L1028.2 342.4L1028.6 337.7L1029.0 336.6L1029.4 330.9L1029.8 340.1L1030.2 327.8L1030.6 339.8L1031.0 339.5L1031.4 333.4L1031.8 328.0L1032.2 328.9L1032.6 327.9L1033.0 336.6L1033.4 331.9L1033.8 341.7L1034.2 332.7L1034.6 333.2L1035.0 339.0L1035.4 342.5L1035.8 337.5L1036.2 331.6L1036.6 332.5L1037.0 340.8L1037.4 341.8L1037.8 345.3L1038.2 339.0L1038.6 341.6L1039.0 339.2L1039.4 336.1L1039.8 338.8L1040.2 328.8L1040.6 327.6L1041.0 330.0L1041.4 331.5L1041.8 340.4L1042.2 338.7L1042.6 337.3L1043.0 339.5L1043.4 331.9L1043.8 341.3L1044.2 340.8L1044.6 329.4L1045.0 334.6L1045.4 334.1L1045.8 332.4L1046.2 343.0L1046.6 334.4L1047.0 341.5L1047.4 337.7L1047.8 330.0L1048.2 336.1L1048.6 341.9L1049.0 335.5L1049.4 335.5L1049.8 332.6L1050.2 338.3L1050.6 345.3L1051.0 331.5L1051.4 344.3L1051.8 339.5L1052.2 334.3L1052.6 343.2L1053.0 343.2L1053.4 343.3L1053.8 334.9L1054.2 333.3L1054.6 336.3L1055.0 339.1L1055.4 330.7L1055.8 330.6L1056.2 332.4L1056.6 327.6L1057.0 340.7L1057.4 335.6L1057.8 335.9L1058.2 338.3L1058.6 340.6L1059.0 338.7L1059.4 332.9L1059.8 332.4L1060.2 333.2L1060.6 343.2L1061.0 341.3L1061.4 329.7L1061.8 339.2L1062.2 343.5L1062.6 339.9L1063.0 337.7L1063.4 339.4L1063.8 340.0L1064.2 341.5L1064.6 332.8L1065.0 342.8L1065.4 338.4L1065.8 333.5L1066.2 342.4L1066.6 329.1L1067.0 339.2L1067.4 331.8L1067.8 335.7L1068.2 330.8L1068.6 332.5L1069.0 333.6L1069.4 330.9L1069.8 340.2L1070.2 335.4L1070.6 333.8L1071.0 337.1L1071.4 331.7L1071.8 334.8L1072.2 336.9L1072.6 337.6L1073.0 334.7L1073.4 339.8L1073.8 342.1L1074.2 344.0L1074.6 338.1L1075.0 344.0L1075.4 343.2L1075.8 338.4L1076.2 329.9L1076.6 336.8L1077.0 334.5L1077.4 336.1L1077.8 328.2L1078.2 337.2L1078.6 325.4L1079.0 333.2L1079.4 320.8L1079.8 323.0L1080.2 326.3L1080.6 321.2L1081.0 325.2L1081.4 331.2L1081.8 334.6L1082.2 338.7L1082.6 334.6L1083.0 341.9L1083.4 332.5L1083.8 338.0L1084.2 340.6L1084.6 330.7L1085.0 341.3L1085.4 341.7L1085.8 337.9L1086.2 343.4L1086.6 340.5L1087.0 336.2L1087.4 343.6L1087.8 339.7L1088.2 342.1L1088.6 346.3L1089.0 341.4L1089.4 342.3L1089.8 342.9L1090.2 334.0L1090.6 332.0L1091.0 332.9L1091.4 338.7L1091.8 345.6L1092.2 337.0L1092.6 343.4L1093.0 333.2L1093.4 330.5L1093.8 334.3L1094.2 341.0L1094.6 343.1L1095.0 336.6L1095.4 334.1L1095.8 340.1L1096.2 328.5L1096.6 332.6L1097.0 339.1L1097.4 328.8L1097.8 339.2L1098.2 342.1L1098.6 329.6L1099.0 340.0L1099.4 328.7L1099.8 330.2L1100.2 332.6L1100.6 343.0L1101.0 328.7L1101.4 334.6L1101.8 334.4L1102.2 330.4L1102.6 342.5L1103.0 331.1L1103.4 340.5L1103.8 334.6L1104.2 336.8L1104.6 337.2L1105.0 336.4L1105.4 338.9L1105.8 340.6L1106.2 330.1L1106.6 329.9L1107.0 335.8L1107.4 330.8L1107.8 338.0L1108.2 343.2L1108.6 336.5L1109.0 330.9L1109.4 329.6L1109.8 335.6L1110.2 338.8L1110.6 340.2L1111.0 340.2L1111.4 336.6L1111.8 343.3L1112.2 338.6L1112.6 340.8L1113.0 330.5L1113.4 337.6L1113.8 331.4L1114.2 333.1L1114.6 334.2L1115.0 338.1L1115.4 330.4L1115.8 339.9L1116.2 335.1L1116.6 332.6L1117.0 343.9L1117.4 339.8L1117.8 335.2L1118.2 332.3L1118.6 338.1L1119.0 342.4L1119.4 338.4L1119.8 335.0L1120.2 331.3L1120.6 332.0L1121.0 339.3L1121.4 328.8L1121.8 340.4L1122.2 336.5L1122.6 332.0L1123.0 329.7L1123.4 334.9L1123.8 343.2L1124.2 331.3L1124.6 333.4L1125.0 330.9L1125.4 340.5L1125.8 343.9L1126.2 337.9L1126.6 334.0L1127.0 343.9L1127.4 338.2L1127.8 343.8L1128.2 335.0L1128.6 331.6L1129.0 330.7L1129.4 333.9L1129.8 336.4"/>
<path stroke="#008080" d="M183.0 639.1L183.4 631.6L183.8 625.4L184.2 645.5L184.6 637.6L185.0 657.1L185.4 653.0L185.8 653.8L186.2 626.2L186.6 645.5L187.0 647.8L187.4 627.4L187.8 642.6L188.2 636.5L188.6 631.7L189.0 652.5L189.4 638.5L189.8 626.9L190.2 636.6L190.6 656.8L191.0 637.8L191.4 630.8L191.8 626.7L192.2 643.4L192.6 649.4L193.0 640.3L193.4 656.2L193.8 644.1L194.2 653.6L194.6 644.6L195.0 645.2L195.4 638.6L195.8 627.6L196.2 649.7L196.6 655.8L197.0 651.4L197.4 640.9L197.8 629.1L198.2 632.8L198.6 645.9L199.0 649.2L199.4 625.0L199.8 657.5L200.2 648.0L200.6 647.7L201.0 657.3L201.4 644.2L201.8 640.0L202.2 630.3L202.6 647.1L203.0 647.4L203.4 656.4L203.8 655.4L204.2 639.1L204.6 652.8L205.0 657.4L205.4 638.4L205.8 646.1L206.2 646.0L206.6 642.0L207.0 641.6L207.4 632.6L207.8 631.5L208.2 636.0L208.6 646.4L209.0 648.7L209.4 654.2L209.8 634.3L210.2 642.1L210.6 639.5L211.0 629.1L211.4 659.2L211.8 636.1L212.2 649.8L212.6 650.4L213.0 653.4L213.4 655.6L213.8 659.4L214.2 636.0L214.6 648.3L215.0 635.2L215.4 634.3L215.8 652.4L216.2 650.8L216.6 650.3L217.0 627.9L217.4 658.7L217.8 645.8L218.2 639.2L218.6 655.1L219.0 625.1L219.4 631.5L219.8 625.6L220.2 632.4L220.6 649.4L221.0 626.1L221.4 648.2L221.8 641.9L222.2 631.8L222.6 651.1L223.0 622.2L223.4 630.7L223.8 641.6L224.2 639.3L224.6 639.8L225.0 663.0L225.4 647.0L225.8 651.2L226.2 643.6L226.6 633.8L227.0 629.9L227.4 653.2L227.8 651.3L228.2 660.1L228.6 631.8L229.0 635.8L229.4 634.1L229.8 640.7L230.2 621.3L230.6 649.1L231.0 647.5L231.4 625.2L231.8 648.9L232.2 636.1L232.6 640.2L233.0 632.3L233.4 650.8L233.8 623.7L234.2 627.0L234.6 631.7L235.0 652.8L235.4 630.5L235.8 642.2L236.2 648.8L236.6 629.9L237.0 641.5L237.4 638.8L237.8 629.1L238.2 653.8L238.6 629.0L239.0 657.0L239.4 638.8L239.8 639.6L240.2 633.9L240.6 656.1L241.0 660.7L241.4 630.6L241.8 646.7L242.2 625.7L242.6 639.4L243.0 633.6L243.4 649.4L243.8 634.3L244.2 650.1L244.6 663.6L245.0 638.0L245.4 633.7L245.8 660.1L246.2 629.7L246.6 653.5L247.0 657.7L247.4 628.8L247.8 641.9L248.2 658.4L248.6 628.2L249.0 653.5L249.4 647.8L249.8 626.0L250.2 629.7L250.6 657.3L251.0 625.8L251.4 636.5L251.8 624.8L252.2 633.3L252.6 632.1L253.0 653.7L253.4 627.8L253.8 628.8L254.2 644.1L254.6 631.0L255.0 642.1L255.4 624.8L255.8 629.9L256.2 636.1L256.6 650.2L257.0 654.3L257.4 631.0L257.8 642.7L258.2 655.5L258.6 643.9L259.0 653.6L259.4 655.9L259.8 636.8L260.2 647.0L260.6 644.0L261.0 631.5L261.4 623.6L261.8 656.4L262.2 626.1L262.6 660.4L263.0 628.4L263.4 660.1L263.8 630.8L264.2 642.4L264.6 649.5L265.0 646.8L265.4 640.6L265.8 645.5L266.2 625.4L266.6 647.6L267.0 628.3L267.4 643.0L267.8 625.8L268.2 648.1L268.6 627.4L269.0 647.3L269.4 635.4L269.8 628.4L270.2 643.4L270.6 635.3L271.0 624.8L271.4 650.8L271.8 630.6L272.2 646.8L272.6 625.8L273.0 652.5L273.4 659.1L273.8 668.6L274.2 636.3L274.6 648.3L275.0 635.2L275.4 654.1L275.8 637.1L276.2 631.3L276.6 645.4L277.0 645.0L277.4 645.4L277.8 625.5L278.2 644.9L278.6 648.5L279.0 633.3L279.4 630.1L279.8 645.5L280.2 650.5L280.6 626.9L281.0 652.9L281.4 634.6L281.8 631.7L282.2 642.7L282.6 625.1L283.0 652.2L283.4 620.4L283.8 623.5L284.2 634.8L284.6 625.1L285.0 627.1L285.4 652.3L285.8 649.5L286.2 632.8L286.6 624.8L287.0 647.5L287.4 641.1L287.8 650.3L288.2 651.6L288.6 653.7L289.0 640.2L289.4 646.1L289.8 658.0L290.2 638.6L290.6 640.9L291.0 634.3L291.4 645.6L291.8 642.4L292.2 648.7L292.6 650.4L293.0 601.5L293.4 599.5L293.8 601.5L294.2 624.1L294.6 634.4L295.0 628.8L295.4 644.8L295.8 656.5L296.2 632.2L296.6 629.2L297.0 635.9L297.4 662.4L297.8 623.1L298.2 645.5L298.6 627.1L299.0 643.1L299.4 650.2L299.8 627.6L300.2 650.3L300.6 640.0L301.0 638.0L301.4 641.7L301.8 620.8L302.2 624.1L302.6 643.8L303.0 655.6L303.4 618.6L303.8 640.2L304.2 656.0L304.6 645.8L305.0 650.8L305.4 653.6L305.8 637.4L306.2 638.0L306.6 651.4L307.0 613.5L307.4 640.7L307.8 644.1L308.2 649.7L308.6 638.0L309.0 651.6L309.4 657.3L309.8 618.5L310.2 616.6L310.6 622.0L311.0 645.3L311.4 621.3L311.8 614.9L312.2 614.9L312.6 621.8L313.0 621.6L313.4 642.2L313.8 636.3L314.2 643.0L314.6 627.9L315.0 640.2L315.4 641.4L315.8 614.6L316.2 641.5L316.6 637.4L317.0 614.3L317.4 636.3L317.8 660.2L318.2 640.2L318.6 623.5L319.0 654.9L319.4 615.1L319.8 626.3L320.2 648.5L320.6 643.6L321.0 622.5L321.4 646.1L321.8 626.6L322.2 638.9L322.6 629.7L323.0 633.6L323.4 640.4L323.8 617.0L324.2 646.3L324.6 625.4L325.0 615.1L325.4 620.8L325.8 615.6L326.2 614.8L326.6 641.2L327.0 615.4L327.4 637.4L327.8 648.5L328.2 613.9L328.6 628.9L329.0 649.3L329.4 629.7L329.8 635.9L330.2 630.1L330.6 646.6L331.0 647.3L331.4 633.0L331.8 615.1L332.2 651.6L332.6 622.7L333.0 643.3L333.4 649.3L333.8 627.5L334.2 615.6L334.6 626.5L335.0 615.7L335.4 616.2L335.8 647.5L336.2 643.5L336.6 615.7L337.0 629.4L337.4 628.4L337.8 613.0L338.2 650.4L338.6 615.6L339.0 654.2L339.4 607.4L339.8 635.4L340.2 652.7L340.6 611.4L341.0 624.5L341.4 639.5L341.8 628.7L342.2 651.4L342.6 614.1L343.0 641.3L343.4 631.3L343.8 613.7L344.2 621.4L344.6 617.0L345.0 589.5L345.4 587.5L345.8 589.5L346.2 640.7L346.6 648.9L347.0 624.6L347.4 627.4L347.8 649.5L348.2 613.7L348.6 620.1L349.0 644.5L349.4 616.7L349.8 622.3L350.2 607.6L350.6 638.7L351.0 619.0L351.4 624.4L351.8 609.3L352.2 607.2L352.6 612.0L353.0 619.6L353.4 614.7L353.8 618.5L354.2 614.6L354.6 643.0L355.0 611.9L355.4 624.9L355.8 617.0L356.2 621.0L356.6 624.7L357.0 617.1L357.4 592.7L357.8 594.7L358.2 584.4L358.6 598.8L359.0 572.2L359.4 577.4L359.8 586.7L360.2 572.4L360.6 583.6L361.0 581.5L361.4 570.8L361.8 578.2L362.2 590.2L362.6 589.3L363.0 603.6L363.4 605.8L363.8 587.2L364.2 591.7L364.6 592.9L365.0 605.6L365.4 595.7L365.8 617.8L366.2 612.4L366.6 603.7L367.0 635.8L367.4 605.0L367.8 632.0L368.2 613.6L368.6 634.8L369.0 641.9L369.4 617.9L369.8 648.9L370.2 626.4L370.6 637.7L371.0 611.6L371.4 606.7L371.8 629.4L372.2 629.2L372.6 608.9L373.0 630.1L373.4 630.0L373.8 612.6L374.2 632.8L374.6 617.5L375.0 645.5L375.4 631.4L375.8 623.5L376.2 626.8L376.6 626.4L377.0 629.6L377.4 638.4L377.8 642.5L378.2 627.6L378.6 643.6L379.0 609.7L379.4 646.8L379.8 632.3L380.2 632.2L380.6 605.5L381.0 603.2L381.4 644.5L381.8 626.8L382.2 635.4L382.6 630.8L383.0 643.5L383.4 617.4L383.8 608.9L384.2 636.8L384.6 609.1L385.0 637.3L385.4 617.4L385.8 626.8L386.2 618.5L386.6 612.0L387.0 620.4L387.4 630.5L387.8 640.6L388.2 630.1L388.6 643.4L389.0 618.7L389.4 613.2L389.8 641.4L390.2 622.3L390.6 618.2L391.0 615.9L391.4 613.9L391.8 639.4L392.2 616.5L392.6 642.6L393.0 631.8L393.4 611.8L393.8 630.1L394.2 622.4L394.6 633.8L395.0 648.3L395.4 633.9L395.8 647.9L396.2 636.3L396.6 639.3L397.0 604.8L397.4 622.3L397.8 630.4L398.2 622.8L398.6 641.6L399.0 641.3L399.4 632.0L399.8 630.7L400.2 619.6L400.6 626.2L401.0 621.8L401.4 639.1L401.8 619.0L402.2 622.7L402.6 641.9L403.0 635.3L403.4 639.4L403.8 619.3L404.2 632.1L404.6 655.2L405.0 636.7L405.4 649.0L405.8 610.5L406.2 654.9L406.6 638.1L407.0 635.0L407.4 628.0L407.8 628.8L408.2 639.5L408.6 656.7L409.0 632.5L409.4 639.5L409.8 655.9L410.2 659.3L410.6 653.3L411.0 639.0L411.4 649.6L411.8 635.0L412.2 648.4L412.6 646.6L413.0 655.5L413.4 641.5L413.8 641.7L414.2 639.6L414.6 657.6L415.0 657.5L415.4 632.3L415.8 654.8L416.2 633.0L416.6 648.9L417.0 642.5L417.4 657.8L417.8 631.7L418.2 628.4L418.6 654.5L419.0 635.2L419.4 634.0L419.8 638.4L420.2 635.2L420.6 648.0L421.0 644.5L421.4 655.7L421.8 650.3L422.2 655.1L422.6 649.3L423.0 628.3L423.4 626.8L423.8 627.6L424.2 636.1L424.6 639.9L425.0 635.3L425.4 629.1L425.8 626.9L426.2 629.5L426.6 642.3L427.0 627.1L427.4 641.0L427.8 654.1L428.2 649.7L428.6 638.2L429.0 650.4L429.4 629.3L429.8 658.9L430.2 653.4L430.6 654.2L431.0 627.9L431.4 645.7L431.8 650.9L432.2 660.5L432.6 654.0L433.0 636.6L433.4 659.6L433.8 655.7L434.2 641.0L434.6 642.0L435.0 634.2L435.4 632.8L435.8 633.8L436.2 633.9L436.6 648.6L437.0 635.0L437.4 630.5L437.8 630.3L438.2 624.8L438.6 649.2L439.0 648.0L439.4 638.8L439.8 633.1L440.2 646.6L440.6 633.0L441.0 638.0L441.4 653.8L441.8 639.3L442.2 643.8L442.6 629.8L443.0 656.2L443.4 636.8L443.8 642.8L444.2 635.9L444.6 637.7L445.0 651.5L445.4 641.4L445.8 634.2L446.2 625.3L446.6 630.4L447.0 638.4L447.4 643.2L447.8 634.0L448.2 632.8L448.6 654.7L449.0 635.7L449.4 636.2L449.8 650.8L450.2 651.0L450.6 627.9L451.0 625.9L451.4 645.4L451.8 654.7L452.2 652.3L452.6 645.5L453.0 648.9L453.4 657.2L453.8 641.1L454.2 651.5L454.6 652.3L455.0 621.4L455.4 659.6L455.8 650.7L456.2 656.1L456.6 660.0L457.0 629.6L457.4 648.9L457.8 646.6L458.2 630.6L458.6 657.3L459.0 657.2L459.4 629.1L459.8 638.5L460.2 646.4L460.6 626.3L461.0 635.0L461.4 638.0L461.8 658.8L462.2 655.6L462.6 648.6L463.0 642.2L463.4 635.3L463.8 650.9L464.2 625.0L464.6 646.2L465.0 637.1L465.4 625.1L465.8 646.0L466.2 627.0L466.6 637.6L467.0 637.9L467.4 640.8L467.8 638.1L468.2 631.6L468.6 651.6L469.0 626.8L469.4 639.2L469.8 646.6L470.2 655.4L470.6 654.3L471.0 634.5L471.4 627.5L471.8 657.2L472.2 657.7L472.6 653.6L473.0 656.3L473.4 626.8L473.8 645.1L474.2 625.9L474.6 653.3L475.0 654.7L475.4 625.2L475.8 654.4L476.2 638.3L476.6 649.0L477.0 642.4L477.4 638.1L477.8 650.7L478.2 639.7L478.6 650.7L479.0 642.2L479.4 642.9L479.8 649.3L480.2 634.1L480.6 632.9L481.0 637.4L481.4 637.5L481.8 656.7L482.2 634.0L482.6 632.1L483.0 643.7L483.4 652.3L483.8 645.3L484.2 647.9L484.6 641.7L485.0 649.0L485.4 649.1L485.8 624.9L486.2 656.7L486.6 653.5L487.0 648.4L487.4 632.8L487.8 632.5L488.2 632.4L488.6 640.7L489.0 623.7L489.4 625.5L489.8 616.1L490.2 643.2L490.6 625.4L491.0 630.9L491.4 630.7L491.8 643.1L492.2 613.9L492.6 634.4L493.0 633.1L493.4 632.3L493.8 626.9L494.2 628.7L494.6 635.5L495.0 621.0L495.4 624.3L495.8 639.3L496.2 633.0L496.6 616.4L497.0 621.7L497.4 612.7L497.8 607.2L498.2 601.1L498.6 618.2L499.0 579.7L499.4 571.6L499.8 587.4L500.2 567.3L500.6 528.4L501.0 527.8L501.4 509.5L501.8 465.6L502.2 443.2L502.6 429.8L503.0 447.6L503.4 436.1L503.8 420.8L504.2 425.6L504.6 462.2L505.0 480.4L505.4 498.7L505.8 507.6L506.2 556.1L506.6 557.7L507.0 591.7L507.4 585.7L507.8 603.3L508.2 610.4L508.6 629.8L509.0 630.8L509.4 625.2L509.8 621.2L510.2 624.0L510.6 621.7L511.0 616.1L511.4 631.8L511.8 610.3L512.2 615.8L512.6 631.8L513.0 634.5L513.4 640.7L513.8 614.5L514.2 612.3L514.6 638.0L515.0 641.4L515.4 634.2L515.8 630.3L516.2 622.1L516.6 619.6L517.0 619.0L517.4 630.5L517.8 647.5L518.2 627.8L518.6 620.4L519.0 642.0L519.4 635.0L519.8 631.1L520.2 649.9L520.6 653.6L521.0 641.5L521.4 646.3L521.8 639.1L522.2 635.8L522.6 626.4L523.0 635.0L523.4 644.5L523.8 641.7L524.2 646.4L524.6 635.7L525.0 647.7L525.4 624.8L525.8 637.3L526.2 651.9L526.6 633.7L527.0 624.1L527.4 656.4L527.8 636.6L528.2 630.3L528.6 623.3L529.0 646.4L529.4 625.2L529.8 629.7L530.2 648.5L530.6 645.4L531.0 645.4L531.4 658.7L531.8 635.6L532.2 631.1L532.6 656.8L533.0 630.4L533.4 647.7L533.8 652.3L534.2 661.4L534.6 660.4L535.0 640.0L535.4 640.0L535.8 649.2L536.2 652.6L536.6 646.9L537.0 648.2L537.4 647.6L537.8 650.7L538.2 638.4L538.6 657.2L539.0 661.5L539.4 651.7L539.8 652.0L540.2 643.9L540.6 637.3L541.0 661.6L541.4 659.6L541.8 641.4L542.2 639.6L542.6 640.2L543.0 664.4L543.4 642.6L543.8 653.2L544.2 660.6L544.6 668.4L545.0 651.0L545.4 648.9L545.8 650.2L546.2 660.3L546.6 638.3L547.0 657.1L547.4 649.0L547.8 642.6L548.2 657.9L548.6 670.0L549.0 654.2L549.4 654.7L549.8 662.9L550.2 672.6L550.6 663.5L551.0 648.3L551.4 653.1L551.8 649.7L552.2 659.3L552.6 658.0L553.0 649.2L553.4 658.0L553.8 659.0L554.2 663.3L554.6 665.1L555.0 655.4L555.4 652.0L555.8 646.2L556.2 652.7L556.6 647.0L557.0 662.1L557.4 644.7L557.8 647.9L558.2 670.9L558.6 649.1L559.0 662.6L559.4 667.9L559.8 653.2L560.2 652.8L560.6 664.7L561.0 648.0L561.4 659.5L561.8 646.3L562.2 661.2L562.6 661.8L563.0 656.2L563.4 663.6L563.8 660.2L564.2 647.1L564.6 662.6L565.0 646.3L565.4 650.7L565.8 652.3L566.2 656.5L566.6 642.2L567.0 660.1L567.4 663.6L567.8 663.7L568.2 654.6L568.6 666.4L569.0 666.5L569.4 663.7L569.8 660.2L570.2 668.4L570.6 650.5L571.0 671.1L571.4 644.1L571.8 649.3L572.2 645.4L572.6 651.1L573.0 667.5L573.4 648.0L573.8 653.5L574.2 656.1L574.6 659.3L575.0 654.7L575.4 660.8L575.8 649.9L576.2 660.7L576.6 649.2L577.0 649.8L577.4 648.3L577.8 636.5L578.2 634.5L578.6 636.5L579.0 643.5L579.4 661.1L579.8 657.5L580.2 661.3L580.6 665.7L581.0 663.8L581.4 664.9L581.8 644.8L582.2 648.9L582.6 659.5L583.0 659.4L583.4 663.2L583.8 668.4L584.2 653.9L584.6 647.1L585.0 648.7L585.4 672.4L585.8 656.7L586.2 661.2L586.6 658.1L587.0 642.9L587.4 640.9L587.8 660.7L588.2 649.5L588.6 660.0L589.0 654.4L589.4 650.7L589.8 652.7L590.2 659.1L590.6 646.7L591.0 660.0L591.4 674.1L591.8 657.0L592.2 672.5L592.6 654.7L593.0 658.8L593.4 666.0L593.8 667.4L594.2 657.8L594.6 647.7L595.0 648.0L595.4 652.6L595.8 646.0L596.2 653.5L596.6 655.6L597.0 641.2L597.4 645.0L597.8 659.2L598.2 659.4L598.6 650.8L599.0 649.2L599.4 643.6L599.8 667.6L600.2 664.9L600.6 667.6L601.0 670.6L601.4 658.3L601.8 651.7L602.2 663.9L602.6 659.2L603.0 661.1L603.4 660.1L603.8 657.2L604.2 640.2L604.6 660.0L605.0 638.2L605.4 650.1L605.8 649.0L606.2 635.5L606.6 650.6L607.0 658.8L607.4 644.6L607.8 657.6L608.2 645.5L608.6 657.5L609.0 656.0L609.4 648.2L609.8 635.5L610.2 638.6L610.6 624.1L611.0 634.9L611.4 626.2L611.8 623.6L612.2 639.6L612.6 614.9L613.0 619.7L613.4 633.8L613.8 637.9L614.2 627.6L614.6 627.6L615.0 623.2L615.4 647.0L615.8 650.6L616.2 634.2L616.6 658.8L617.0 641.6L617.4 638.4L617.8 640.0L618.2 661.8L618.6 636.0L619.0 650.6L619.4 643.6L619.8 635.4L620.2 664.7L620.6 637.0L621.0 652.1L621.4 642.9L621.8 648.2L622.2 649.0L622.6 666.6L623.0 662.2L623.4 646.8L623.8 643.5L624.2 638.1L624.6 651.6L625.0 642.8L625.4 658.4L625.8 662.0L626.2 655.8L626.6 650.6L627.0 657.7L627.4 639.4L627.8 651.7L628.2 660.2L628.6 644.5L629.0 652.8L629.4 655.5L629.8 667.1L630.2 655.4L630.6 654.9L631.0 642.6L631.4 655.3L631.8 657.6L632.2 656.6L632.6 658.2L633.0 663.9L633.4 662.6L633.8 644.8L634.2 669.2L634.6 652.5L635.0 659.0L635.4 642.7L635.8 635.5L636.2 660.0L636.6 642.1L637.0 648.4L637.4 652.9L637.8 646.6L638.2 656.5L638.6 636.1L639.0 642.2L639.4 648.0L639.8 622.9L640.2 662.5L640.6 643.8L641.0 660.3L641.4 666.0L641.8 655.3L642.2 666.2L642.6 656.6L643.0 653.4L643.4 668.5L643.8 648.7L644.2 638.8L644.6 658.3L645.0 639.5L645.4 640.3L645.8 652.1L646.2 659.4L646.6 656.8L647.0 644.0L647.4 667.5L647.8 649.9L648.2 644.2L648.6 663.1L649.0 636.0L649.4 649.0L649.8 647.1L650.2 638.7L650.6 668.4L651.0 645.4L651.4 647.2L651.8 653.4L652.2 648.3L652.6 660.7L653.0 655.1L653.4 652.5L653.8 660.0L654.2 637.9L654.6 659.6L655.0 643.0L655.4 668.6L655.8 662.0L656.2 662.6L656.6 659.4L657.0 666.1L657.4 664.2L657.8 643.6L658.2 663.7L658.6 667.3L659.0 666.5L659.4 667.3L659.8 661.8L660.2 645.7L660.6 665.2L661.0 642.9L661.4 669.3L661.8 646.7L662.2 644.0L662.6 665.3L663.0 654.6L663.4 666.7L663.8 644.6L664.2 644.8L664.6 664.9L665.0 641.3L665.4 654.7L665.8 671.8L666.2 648.2L666.6 643.0L667.0 665.5L667.4 644.1L667.8 655.8L668.2 667.1L668.6 645.4L669.0 660.6L669.4 660.9L669.8 664.6L670.2 668.9L670.6 665.9L671.0 645.1L671.4 658.2L671.8 662.0L672.2 663.3L672.6 655.2L673.0 661.2L673.4 668.3L673.8 648.5L674.2 650.9L674.6 644.2L675.0 652.7L675.4 665.9L675.8 655.8L676.2 654.0L676.6 645.7L677.0 638.5L677.4 651.8L677.8 655.5L678.2 668.9L678.6 639.5L679.0 656.4L679.4 660.1L679.8 647.1L680.2 642.4L680.6 645.9L681.0 653.6L681.4 656.4L681.8 642.9L682.2 642.7L682.6 647.6L683.0 651.7L683.4 636.8L683.8 661.7L684.2 653.6L684.6 647.5L685.0 655.5L685.4 661.1L685.8 657.7L686.2 653.6L686.6 662.2L687.0 655.2L687.4 665.5L687.8 644.0L688.2 652.9L688.6 654.0L689.0 665.0L689.4 649.5L689.8 656.6L690.2 656.1L690.6 661.1L691.0 660.4L691.4 635.5L691.8 647.7L692.2 644.8L692.6 652.8L693.0 636.4L693.4 642.6L693.8 656.8L694.2 664.7L694.6 644.3L695.0 634.6L695.4 651.0L695.8 657.3L696.2 636.0L696.6 656.8L697.0 651.4L697.4 636.9L697.8 639.3L698.2 653.6L698.6 643.0L699.0 656.5L699.4 628.3L699.8 634.5L700.2 620.1L700.6 644.1L701.0 618.0L701.4 620.5L701.8 590.4L702.2 600.5L702.6 585.1L703.0 581.4L703.4 546.1L703.8 551.5L704.2 517.0L704.6 509.3L705.0 514.6L705.4 503.2L705.8 505.3L706.2 507.7L706.6 508.6L707.0 495.5L707.4 529.8L707.8 537.3L708.2 546.4L708.6 540.7L709.0 576.1L709.4 588.8L709.8 576.4L710.2 585.0L710.6 597.1L711.0 628.6L711.4 626.8L711.8 630.5L712.2 629.5L712.6 622.7L713.0 629.7L713.4 634.6L713.8 625.1L714.2 620.2L714.6 636.8L715.0 640.1L715.4 642.2L715.8 634.0L716.2 652.0L716.6 623.8L717.0 623.1L717.4 643.8L717.8 636.4L718.2 637.9L718.6 637.6L719.0 623.8L719.4 641.3L719.8 652.0L720.2 650.5L720.6 653.7L721.0 635.3L721.4 645.7L721.8 645.9L722.2 636.6L722.6 649.7L723.0 651.2L723.4 647.8L723.8 654.5L724.2 650.3L724.6 624.2L725.0 651.6L725.4 625.3L725.8 650.8L726.2 637.6L726.6 641.5L727.0 637.7L727.4 640.4L727.8 643.9L728.2 650.4L728.6 629.0L729.0 653.2L729.4 643.3L729.8 654.2L730.2 636.7L730.6 625.2L731.0 637.9L731.4 627.3L731.8 634.1L732.2 642.7L732.6 644.1L733.0 642.8L733.4 649.1L733.8 638.0L734.2 632.2L734.6 631.7L735.0 633.2L735.4 657.4L735.8 658.6L736.2 644.0L736.6 662.1L737.0 642.9L737.4 644.5L737.8 668.4L738.2 643.9L738.6 664.5L739.0 668.3L739.4 665.0L739.8 658.8L740.2 644.9L740.6 644.9L741.0 666.3L741.4 662.2L741.8 647.7L742.2 641.3L742.6 651.4L743.0 664.2L743.4 658.3L743.8 659.1L744.2 641.0L744.6 654.7L745.0 642.8L745.4 639.2L745.8 666.2L746.2 655.7L746.6 640.4L747.0 645.5L747.4 643.2L747.8 642.6L748.2 661.3L748.6 644.5L749.0 649.9L749.4 635.1L749.8 656.5L750.2 666.5L750.6 641.6L751.0 667.4L751.4 637.9L751.8 656.2L752.2 647.3L752.6 669.6L753.0 643.0L753.4 659.7L753.8 661.2L754.2 647.3L754.6 658.7L755.0 662.2L755.4 640.3L755.8 650.7L756.2 648.3L756.6 659.4L757.0 650.0L757.4 638.0L757.8 654.0L758.2 652.4L758.6 651.4L759.0 663.8L759.4 668.8L759.8 647.7L760.2 648.8L760.6 655.0L761.0 637.4L761.4 639.4L761.8 642.8L762.2 652.5L762.6 638.8L763.0 662.3L763.4 643.8L763.8 640.7L764.2 641.8L764.6 652.6L765.0 651.4L765.4 651.3L765.8 645.5L766.2 667.6L766.6 664.8L767.0 656.7L767.4 665.4L767.8 648.0L768.2 643.8L768.6 659.6L769.0 663.6L769.4 661.9L769.8 655.4L770.2 638.8L770.6 662.3L771.0 644.3L771.4 650.0L771.8 650.4L772.2 661.5L772.6 653.0L773.0 661.1L773.4 645.6L773.8 644.6L774.2 640.8L774.6 641.0L775.0 653.2L775.4 648.2L775.8 648.0L776.2 663.2L776.6 646.1L777.0 659.7L777.4 665.4L777.8 650.9L778.2 654.2L778.6 647.9L779.0 637.6L779.4 659.3L779.8 648.8L780.2 652.3L780.6 639.2L781.0 667.5L781.4 663.1L781.8 649.3L782.2 655.0L782.6 662.0L783.0 659.4L783.4 661.4L783.8 668.6L784.2 666.0L784.6 659.2L785.0 666.8L785.4 645.5L785.8 647.2L786.2 653.4L786.6 662.6L787.0 648.2L787.4 645.4L787.8 629.0L788.2 653.5L788.6 646.5L789.0 640.2L789.4 641.1L789.8 632.6L790.2 632.8L790.6 637.0L791.0 637.9L791.4 641.6L791.8 641.4L792.2 616.6L792.6 643.2L793.0 635.8L793.4 620.7L793.8 621.0L794.2 624.8L794.6 647.6L795.0 642.8L795.4 637.0L795.8 647.3L796.2 640.9L796.6 630.0L797.0 643.8L797.4 642.1L797.8 655.1L798.2 655.8L798.6 641.8L799.0 638.5L799.4 647.1L799.8 645.3L800.2 660.9L800.6 637.4L801.0 662.4L801.4 665.7L801.8 643.2L802.2 661.3L802.6 662.3L803.0 659.4L803.4 653.4L803.8 640.9L804.2 647.0L804.6 663.7L805.0 640.8L805.4 658.4L805.8 668.4L806.2 646.8L806.6 652.0L807.0 647.4L807.4 651.1L807.8 639.0L808.2 666.0L808.6 665.1L809.0 642.1L809.4 658.8L809.8 653.4L810.2 655.7L810.6 644.9L811.0 667.2L811.4 646.6L811.8 641.6L812.2 649.4L812.6 661.3L813.0 659.9L813.4 648.4L813.8 658.2L814.2 658.5L814.6 667.9L815.0 660.0L815.4 671.9L815.8 650.0L816.2 651.8L816.6 648.2L817.0 657.5L817.4 669.3L817.8 674.6L818.2 664.2L818.6 640.1L819.0 659.8L819.4 649.8L819.8 639.2L820.2 653.5L820.6 663.8L821.0 656.1L821.4 653.7L821.8 639.5L822.2 640.9L822.6 638.6L823.0 660.9L823.4 644.7L823.8 660.7L824.2 658.6L824.6 650.3L825.0 661.7L825.4 640.4L825.8 640.2L826.2 637.9L826.6 637.9L827.0 661.8L827.4 644.2L827.8 647.7L828.2 657.1L828.6 659.3L829.0 643.3L829.4 664.2L829.8 660.4L830.2 647.6L830.6 652.5L831.0 655.7L831.4 663.5L831.8 643.9L832.2 639.8L832.6 654.1L833.0 662.2L833.4 659.8L833.8 671.4L834.2 644.4L834.6 649.3L835.0 640.8L835.4 646.3L835.8 661.9L836.2 650.5L836.6 641.6L837.0 664.0L837.4 665.6L837.8 644.8L838.2 646.1L838.6 661.4L839.0 662.9L839.4 669.3L839.8 638.2L840.2 658.8L840.6 638.3L841.0 649.7L841.4 638.5L841.8 667.0L842.2 664.9L842.6 639.6L843.0 652.0L843.4 654.1L843.8 643.4L844.2 649.3L844.6 648.7L845.0 634.5L845.4 658.8L845.8 640.9L846.2 644.9L846.6 641.7L847.0 650.0L847.4 639.5L847.8 662.2L848.2 648.0L848.6 655.4L849.0 661.3L849.4 651.5L849.8 638.1L850.2 652.4L850.6 637.9L851.0 634.6L851.4 638.5L851.8 646.6L852.2 653.6L852.6 635.9L853.0 650.0L853.4 642.0L853.8 650.0L854.2 638.8L854.6 659.7L855.0 659.9L855.4 644.7L855.8 661.6L856.2 659.3L856.6 655.1L857.0 657.5L857.4 657.0L857.8 655.4L858.2 652.3L858.6 642.0L859.0 655.1L859.4 646.9L859.8 635.5L860.2 636.8L860.6 642.2L861.0 628.4L861.4 653.5L861.8 623.5L862.2 645.9L862.6 625.1L863.0 636.4L863.4 643.4L863.8 620.2L864.2 629.3L864.6 626.5L865.0 605.7L865.4 604.3L865.8 606.9L866.2 598.6L866.6 586.1L867.0 586.0L867.4 571.8L867.8 588.0L868.2 572.5L868.6 568.1L869.0 549.8L869.4 561.3L869.8 558.4L870.2 550.1L870.6 548.1L871.0 551.0L871.4 558.7L871.8 534.7L872.2 538.2L872.6 555.7L873.0 540.8L873.4 577.1L873.8 565.0L874.2 563.6L874.6 595.1L875.0 580.7L875.4 599.6L875.8 612.1L876.2 601.6L876.6 618.9L877.0 605.5L877.4 605.9L877.8 623.8L878.2 626.7L878.6 637.1L879.0 630.8L879.4 626.9L879.8 629.5L880.2 638.8L880.6 644.5L881.0 639.4L881.4 644.4L881.8 646.8L882.2 636.7L882.6 651.2L883.0 656.7L883.4 647.5L883.8 640.2L884.2 637.9L884.6 657.3L885.0 659.1L885.4 650.3L885.8 629.1L886.2 644.7L886.6 658.7L887.0 658.2L887.4 650.0L887.8 655.6L888.2 646.2L888.6 646.6L889.0 660.8L889.4 648.1L889.8 652.0L890.2 648.0L890.6 638.6L891.0 641.4L891.4 647.9L891.8 639.1L892.2 657.0L892.6 647.8L893.0 650.8L893.4 649.2L893.8 642.7L894.2 652.0L894.6 635.6L895.0 638.5L895.4 649.4L895.8 639.8L896.2 653.2L896.6 661.7L897.0 640.1L897.4 638.4L897.8 648.5L898.2 656.6L898.6 649.0L899.0 656.4L899.4 660.2L899.8 650.5L900.2 641.1L900.6 660.4L901.0 663.1L901.4 664.1L901.8 649.7L902.2 660.0L902.6 656.1L903.0 637.1L903.4 662.8L903.8 649.0L904.2 644.4L904.6 656.2L905.0 650.7L905.4 648.1L905.8 667.1L906.2 637.9L906.6 659.7L907.0 642.2L907.4 644.0L907.8 641.8L908.2 644.9L908.6 653.4L909.0 645.8L909.4 656.4L909.8 649.5L910.2 649.4L910.6 641.7L911.0 665.5L911.4 658.9L911.8 658.7L912.2 655.7L912.6 650.4L913.0 662.1L913.4 644.1L913.8 666.7L914.2 664.0L914.6 659.3L915.0 644.8L915.4 657.3L915.8 648.2L916.2 658.9L916.6 663.3L917.0 659.3L917.4 652.4L917.8 664.6L918.2 646.7L918.6 658.4L919.0 656.8L919.4 652.5L919.8 663.8L920.2 660.6L920.6 647.9L921.0 661.5L921.4 660.8L921.8 648.9L922.2 652.2L922.6 649.3L923.0 645.3L923.4 651.5L923.8 646.6L924.2 646.6L924.6 646.2L925.0 654.2L925.4 659.2L925.8 665.0L926.2 652.1L926.6 652.5L927.0 659.8L927.4 668.5L927.8 664.2L928.2 660.0L928.6 648.6L929.0 655.5L929.4 663.1L929.8 650.9L930.2 646.6L930.6 667.4L931.0 666.5L931.4 648.7L931.8 661.4L932.2 663.9L932.6 645.0L933.0 656.5L933.4 644.6L933.8 662.6L934.2 651.4L934.6 648.2L935.0 668.8L935.4 648.7L935.8 668.7L936.2 662.6L936.6 646.4L937.0 646.0L937.4 656.5L937.8 665.6L938.2 649.3L938.6 660.8L939.0 656.9L939.4 643.8L939.8 653.1L940.2 665.7L940.6 661.2L941.0 648.2L941.4 662.3L941.8 658.3L942.2 665.8L942.6 668.1L943.0 652.4L943.4 656.3L943.8 645.0L944.2 651.7L944.6 645.5L945.0 660.8L945.4 662.5L945.8 664.4L946.2 648.3L946.6 661.5L947.0 659.9L947.4 653.8L947.8 646.6L948.2 666.4L948.6 660.2L949.0 645.0L949.4 653.7L949.8 647.0L950.2 646.2L950.6 646.5L951.0 647.6L951.4 658.3L951.8 666.0L952.2 649.5L952.6 663.2L953.0 660.8L953.4 658.9L953.8 656.1L954.2 663.0L954.6 661.0L955.0 661.9L955.4 659.9L955.8 654.8L956.2 667.8L956.6 653.7L957.0 652.2L957.4 653.2L957.8 663.0L958.2 658.3L958.6 661.8L959.0 656.5L959.4 664.8L959.8 658.6L960.2 660.2L960.6 665.2L961.0 646.7L961.4 667.3L961.8 667.3L962.2 663.0L962.6 651.8L963.0 648.3L963.4 652.9L963.8 648.7L964.2 665.4L964.6 655.7L965.0 658.1L965.4 664.7L965.8 663.2L966.2 660.3L966.6 669.0L967.0 657.4L967.4 667.5L967.8 658.8L968.2 647.1L968.6 660.7L969.0 652.3L969.4 661.8L969.8 660.3L970.2 650.2L970.6 660.5L971.0 655.7L971.4 650.5L971.8 666.7L972.2 663.0L972.6 656.3L973.0 658.3L973.4 650.0L973.8 647.9L974.2 644.8L974.6 662.4L975.0 663.3L975.4 653.4L975.8 668.5L976.2 653.0L976.6 645.4L977.0 652.7L977.4 648.2L977.8 656.3L978.2 660.0L978.6 652.6L979.0 644.6L979.4 665.6L979.8 654.1L980.2 642.4L980.6 649.0L981.0 656.2L981.4 642.8L981.8 659.2L982.2 652.2L982.6 659.6L983.0 663.7L983.4 659.2L983.8 638.0L984.2 667.5L984.6 660.5L985.0 666.6L985.4 653.5L985.8 667.7L986.2 656.9L986.6 643.8L987.0 664.3L987.4 656.5L987.8 651.6L988.2 661.8L988.6 656.4L989.0 656.1L989.4 646.9L989.8 652.8L990.2 662.9L990.6 659.0L991.0 667.9L991.4 657.6L991.8 662.7L992.2 666.5L992.6 659.0L993.0 651.9L993.4 653.8L993.8 664.6L994.2 661.2L994.6 666.0L995.0 647.9L995.4 663.0L995.8 664.3L996.2 657.0L996.6 665.5L997.0 646.8L997.4 652.3L997.8 655.9L998.2 662.1L998.6 653.0L999.0 660.3L999.4 657.4L999.8 653.0L1000.2 647.1L1000.6 644.4L1001.0 656.9L1001.4 655.2L1001.8 650.5L1002.2 656.6L1002.6 660.6L1003.0 661.5L1003.4 645.6L1003.8 654.1L1004.2 643.3L1004.6 641.8L1005.0 652.7L1005.4 649.0L1005.8 647.0L1006.2 647.5L1006.6 631.9L1007.0 640.4L1007.4 634.8L1007.8 641.6L1008.2 637.7L1008.6 625.1L1009.0 636.1L1009.4 621.5L1009.8 614.3L1010.2 612.4L1010.6 607.8L1011.0 620.8L1011.4 610.2L1011.8 602.6L1012.2 599.1L1012.6 606.3L1013.0 612.8L1013.4 611.7L1013.8 607.8L1014.2 606.7L1014.6 596.0L1015.0 595.0L1015.4 614.1L1015.8 611.3L1016.2 610.9L1016.6 607.5L1017.0 615.8L1017.4 617.6L1017.8 611.9L1018.2 620.4L1018.6 619.8L1019.0 630.8L1019.4 617.6L1019.8 632.2L1020.2 624.9L1020.6 627.2L1021.0 639.1L1021.4 650.6L1021.8 638.3L1022.2 653.4L1022.6 633.2L1023.0 636.5L1023.4 647.5L1023.8 636.4L1024.2 647.9L1024.6 652.5L1025.0 645.2L1025.4 642.9L1025.8 655.6L1026.2 651.9L1026.6 654.2L1027.0 653.8L1027.4 645.5L1027.8 657.5L1028.2 666.8L1028.6 645.6L1029.0 654.4L1029.4 664.0L1029.8 644.2L1030.2 664.2L1030.6 649.2L1031.0 665.9L1031.4 654.2L1031.8 661.4L1032.2 647.7L1032.6 664.5L1033.0 645.2L1033.4 650.3L1033.8 657.4L1034.2 646.3L1034.6 650.0L1035.0 652.3L1035.4 654.5L1035.8 666.8L1036.2 667.9L1036.6 653.9L1037.0 667.8L1037.4 646.9L1037.8 654.4L1038.2 652.2L1038.6 661.9L1039.0 652.0L1039.4 647.4L1039.8 663.9L1040.2 655.9L1040.6 651.4L1041.0 656.1L1041.4 648.2L1041.8 649.4L1042.2 651.7L1042.6 655.4L1043.0 653.9L1043.4 652.8L1043.8 647.0L1044.2 657.2L1044.6 650.1L1045.0 662.5L1045.4 667.5L1045.8 668.0L1046.2 651.8L1046.6 657.3L1047.0 660.1L1047.4 650.1L1047.8 662.4L1048.2 650.6L1048.6 645.3L1049.0 657.1L1049.4 667.3L1049.8 648.8L1050.2 646.2L1050.6 652.9L1051.0 646.2L1051.4 665.1L1051.8 650.3L1052.2 648.9L1052.6 650.0L1053.0 648.3L1053.4 665.8L1053.8 658.8L1054.2 657.5L1054.6 658.8L1055.0 672.5L1055.4 668.7L1055.8 666.5L1056.2 660.8L1056.6 670.1L1057.0 660.5L1057.4 664.5L1057.8 668.6L1058.2 656.1L1058.6 655.7L1059.0 664.2L1059.4 669.0L1059.8 667.0L1060.2 666.0L1060.6 651.2L1061.0 664.4L1061.4 639.7L1061.8 662.8L1062.2 670.4L1062.6 661.4L1063.0 657.6L1063.4 657.4L1063.8 657.7L1064.2 665.6L1064.6 648.5L1065.0 658.4L1065.4 660.6L1065.8 646.1L1066.2 647.5L1066.6 669.2L1067.0 662.3L1067.4 661.0L1067.8 654.0L1068.2 648.3L1068.6 669.4L1069.0 669.4L1069.4 657.1L1069.8 646.3L1070.2 654.6L1070.6 647.3L1071.0 660.5L1071.4 649.2L1071.8 648.4L1072.2 658.8L1072.6 663.3L1073.0 662.1L1073.4 644.7L1073.8 666.0L1074.2 645.4L1074.6 644.3L1075.0 646.7L1075.4 640.5L1075.8 638.4L1076.2 657.9L1076.6 634.6L1077.0 633.9L1077.4 641.3L1077.8 632.5L1078.2 634.7L1078.6 653.6L1079.0 650.0L1079.4 651.8L1079.8 653.2L1080.2 648.7L1080.6 646.9L1081.0 656.0L1081.4 655.1L1081.8 659.8L1082.2 658.0L1082.6 666.2L1083.0 657.5L1083.4 662.5L1083.8 667.1L1084.2 655.6L1084.6 661.8L1085.0 666.7L1085.4 656.8L1085.8 644.3L1086.2 648.4L1086.6 647.5L1087.0 665.9L1087.4 657.2L1087.8 667.9L1088.2 659.4L1088.6 650.0L1089.0 660.1L1089.4 660.7L1089.8 661.2L1090.2 668.4L1090.6 667.0L1091.0 660.9L1091.4 646.0L1091.8 650.0L1092.2 645.9L1092.6 659.7L1093.0 668.7L1093.4 646.8L1093.8 661.5L1094.2 666.9L1094.6 665.0L1095.0 645.4L1095.4 662.5L1095.8 663.2L1096.2 652.8L1096.6 670.0L1097.0 655.5L1097.4 666.2L1097.8 668.4L1098.2 653.8L1098.6 647.8L1099.0 653.9L1099.4 653.5L1099.8 656.3L1100.2 647.4L1100.6 664.9L1101.0 653.6L1101.4 647.7L1101.8 659.6L1102.2 647.9L1102.6 666.3L1103.0 657.8L1103.4 646.7L1103.8 648.3L1104.2 666.1L1104.6 646.5L1105.0 644.8L1105.4 652.1L1105.8 660.0L1106.2 668.2L1106.6 665.5L1107.0 656.5L1107.4 667.5L1107.8 657.1L1108.2 664.9L1108.6 646.5L1109.0 660.0L1109.4 643.1L1109.8 666.5L1110.2 656.5L1110.6 661.0L1111.0 652.6L1111.4 668.7L1111.8 652.0L1112.2 664.2L1112.6 653.1L1113.0 655.9L1113.4 650.2L1113.8 671.0L1114.2 661.1L1114.6 660.5L1115.0 657.3L1115.4 665.2L1115.8 657.3L1116.2 664.5L1116.6 651.9L1117.0 640.1L1117.4 645.1L1117.8 665.3L1118.2 663.3L1118.6 658.0L1119.0 660.1L1119.4 671.4L1119.8 663.1L1120.2 652.3L1120.6 669.6L1121.0 654.7L1121.4 654.6L1121.8 658.9L1122.2 654.3L1122.6 650.0L1123.0 649.6L1123.4 639.5L1123.8 637.5L1124.2 639.5L1124.6 665.5L1125.0 645.3L1125.4 656.8L1125.8 654.8L1126.2 664.1L1126.6 645.2L1127.0 660.0L1127.4 663.3L1127.8 656.6L1128.2 650.0L1128.6 659.0L1129.0 655.7L1129.4 656.0L1129.8 667.3"/>
<path stroke="#800000" d="M183.0 968.2L183.4 971.7L183.8 983.0L184.2 960.5L184.6 972.4L185.0 965.3L185.4 979.8L185.8 973.2L186.2 962.0L186.6 973.4L187.0 964.5L187.4 958.3L187.8 960.6L188.2 968.6L188.6 957.4L189.0 983.6L189.4 984.9L189.8 958.0L190.2 975.4L190.6 971.8L191.0 969.9L191.4 957.3L191.8 985.9L192.2 962.8L192.6 984.6L193.0 966.8L193.4 960.9L193.8 963.2L194.2 963.7L194.6 983.0L195.0 983.5L195.4 947.1L195.8 945.1L196.2 947.1L196.6 970.5L197.0 976.8L197.4 977.3L197.8 983.0L198.2 981.2L198.6 973.3L199.0 979.9L199.4 982.6L199.8 962.8L200.2 989.4L200.6 973.9L201.0 976.8L201.4 977.6L201.8 978.5L202.2 957.0L202.6 956.9L203.0 965.4L203.4 960.9L203.8 954.4L204.2 975.1L204.6 965.5L205.0 972.8L205.4 964.8L205.8 982.6L206.2 969.5L206.6 984.3L207.0 978.9L207.4 970.5L207.8 974.7L208.2 989.7L208.6 980.2L209.0 969.8L209.4 968.5L209.8 984.1L210.2 976.2L210.6 978.3L211.0 959.6L211.4 969.0L211.8 954.1L212.2 971.7L212.6 953.3L213.0 974.4L213.4 956.5L213.8 953.8L214.2 957.1L214.6 966.2L215.0 969.4L215.4 961.8L215.8 975.3L216.2 975.4L216.6 962.3L217.0 968.0L217.4 986.8L217.8 971.4L218.2 982.2L218.6 977.7L219.0 976.8L219.4 950.1L219.8 954.5L220.2 973.7L220.6 985.7L221.0 973.8L221.4 955.4L221.8 987.3L222.2 980.6L222.6 968.5L223.0 955.3L223.4 956.3L223.8 987.2L224.2 983.4L224.6 958.5L225.0 959.2L225.4 977.8L225.8 958.0L226.2 973.1L226.6 966.3L227.0 973.9L227.4 976.0L227.8 963.6L228.2 962.9L228.6 958.3L229.0 984.5L229.4 966.4L229.8 953.4L230.2 968.1L230.6 973.5L231.0 981.6L231.4 962.1L231.8 978.0L232.2 974.1L232.6 983.5L233.0 963.5L233.4 959.4L233.8 953.3L234.2 972.5L234.6 974.7L235.0 968.5L235.4 986.6L235.8 965.0L236.2 984.9L236.6 988.6L237.0 972.2L237.4 958.1L237.8 976.3L238.2 978.7L238.6 988.5L239.0 985.4L239.4 970.3L239.8 977.4L240.2 960.7L240.6 976.1L241.0 980.8L241.4 972.2L241.8 965.9L242.2 955.2L242.6 968.4L243.0 963.2L243.4 982.4L243.8 957.6L244.2 951.2L244.6 960.9L245.0 966.7L245.4 960.5L245.8 976.8L246.2 963.2L246.6 958.9L247.0 959.7L247.4 981.6L247.8 958.1L248.2 975.5L248.6 971.3L249.0 964.1L249.4 982.1L249.8 976.0L250.2 980.8L250.6 962.4L251.0 976.8L251.4 968.7L251.8 975.8L252.2 977.3L252.6 963.5L253.0 972.5L253.4 981.8L253.8 956.6L254.2 985.5L254.6 964.4L255.0 980.9L255.4 961.3L255.8 988.7L256.2 974.0L256.6 956.6L257.0 968.5L257.4 976.4L257.8 977.8L258.2 965.1L258.6 985.5L259.0 966.5L259.4 958.5L259.8 980.1L260.2 984.8L260.6 977.7L261.0 960.8L261.4 963.1L261.8 977.6L262.2 952.9L262.6 961.3L263.0 968.8L263.4 957.8L263.8 982.4L264.2 981.4L264.6 978.9L265.0 965.4L265.4 984.1L265.8 981.2L266.2 971.5L266.6 961.2L267.0 956.5L267.4 974.0L267.8 956.2L268.2 973.4L268.6 954.1L269.0 979.7L269.4 983.1L269.8 981.6L270.2 981.1L270.6 986.6L271.0 954.4L271.4 959.0L271.8 976.9L272.2 976.6L272.6 971.3L273.0 969.1L273.4 977.7L273.8 954.1L274.2 960.7L274.6 966.5L275.0 985.5L275.4 972.7L275.8 967.3L276.2 966.3L276.6 966.4L277.0 985.9L277.4 955.3L277.8 967.5L278.2 983.6L278.6 984.1L279.0 955.1L279.4 964.4L279.8 953.6L280.2 961.9L280.6 962.3L281.0 955.9L281.4 983.7L281.8 951.6L282.2 959.9L282.6 987.7L283.0 971.5L283.4 975.5L283.8 956.1L284.2 967.6L284.6 972.7L285.0 957.4L285.4 965.4L285.8 972.6L286.2 970.4L286.6 973.6L287.0 961.0L287.4 975.0L287.8 984.0L288.2 962.4L288.6 971.0L289.0 965.3L289.4 961.6L289.8 987.5L290.2 968.8L290.6 954.5L291.0 961.8L291.4 956.8L291.8 957.0L292.2 966.0L292.6 964.1L293.0 973.5L293.4 977.0L293.8 958.8L294.2 955.0L294.6 946.1L295.0 944.1L295.4 946.1L295.8 957.0L296.2 983.9L296.6 947.5L297.0 976.8L297.4 960.8L297.8 965.3L298.2 935.5L298.6 960.4L299.0 979.6L299.4 954.0L299.8 972.7L300.2 945.2L300.6 963.5L301.0 953.1L301.4 980.0L301.8 981.2L302.2 982.9L302.6 940.5L303.0 938.5L303.4 940.5L303.8 973.7L304.2 983.3L304.6 958.0L305.0 988.5L305.4 964.6L305.8 969.3L306.2 942.4L306.6 952.0L307.0 970.6L307.4 979.1L307.8 957.9L308.2 969.7L308.6 945.0L309.0 946.8L309.4 972.1L309.8 970.0L310.2 973.6L310.6 951.9L311.0 966.7L311.4 975.7L311.8 988.3L312.2 952.3L312.6 980.4L313.0 977.4L313.4 943.6L313.8 974.6L314.2 986.7L314.6 971.9L315.0 965.9L315.4 977.4L315.8 964.9L316.2 968.7L316.6 975.5L317.0 956.1L317.4 951.1L317.8 957.2L318.2 949.8L318.6 981.7L319.0 937.0L319.4 935.0L319.8 937.0L320.2 983.8L320.6 978.4L321.0 975.7L321.4 956.6L321.8 951.6L322.2 971.5L322.6 960.7L323.0 942.1L323.4 943.0L323.8 939.7L324.2 967.9L324.6 960.1L325.0 982.6L325.4 941.9L325.8 963.3L326.2 949.8L326.6 976.5L327.0 950.4L327.4 954.1L327.8 968.1L328.2 977.9L328.6 945.1L329.0 959.5L329.4 974.8L329.8 958.4L330.2 949.0L330.6 942.0L331.0 966.8L331.4 950.7L331.8 969.7L332.2 966.9L332.6 957.5L333.0 967.2L333.4 983.6L333.8 939.8L334.2 976.3L334.6 984.8L335.0 983.9L335.4 952.0L335.8 949.5L336.2 983.8L336.6 970.6L337.0 975.1L337.4 964.5L337.8 966.7L338.2 969.6L338.6 965.1L339.0 976.9L339.4 963.1L339.8 941.5L340.2 979.7L340.6 941.4L341.0 974.8L341.4 943.5L341.8 958.6L342.2 944.9L342.6 979.9L343.0 961.7L343.4 967.1L343.8 957.2L344.2 971.4L344.6 980.0L345.0 973.3L345.4 928.9L345.8 943.9L346.2 965.7L346.6 951.1L347.0 959.0L347.4 964.1L347.8 951.8L348.2 977.3L348.6 964.7L349.0 944.0L349.4 949.3L349.8 949.9L350.2 949.0L350.6 968.1L351.0 974.5L351.4 972.4L351.8 952.4L352.2 949.9L352.6 959.3L353.0 980.4L353.4 951.4L353.8 979.1L354.2 955.7L354.6 976.6L355.0 979.8L355.4 939.9L355.8 948.7L356.2 944.2L356.6 956.9L357.0 953.0L357.4 937.2L357.8 911.0L358.2 909.7L358.6 927.1L359.0 924.9L359.4 922.2L359.8 900.0L360.2 878.9L360.6 888.8L361.0 884.7L361.4 869.8L361.8 885.3L362.2 916.6L362.6 918.1L363.0 888.7L363.4 894.1L363.8 900.5L364.2 932.1L364.6 946.7L365.0 939.2L365.4 921.6L365.8 930.6L366.2 923.1L366.6 964.2L367.0 964.9L367.4 934.0L367.8 957.8L368.2 941.2L368.6 952.1L369.0 941.7L369.4 959.8L369.8 948.3L370.2 951.9L370.6 957.3L371.0 946.5L371.4 979.0L371.8 989.0L372.2 972.5L372.6 946.9L373.0 958.6L373.4 962.4L373.8 946.0L374.2 977.5L374.6 950.2L375.0 975.5L375.4 951.8L375.8 947.5L376.2 977.3L376.6 973.8L377.0 955.7L377.4 960.6L377.8 978.3L378.2 963.5L378.6 967.3L379.0 986.3L379.4 959.0L379.8 942.0L380.2 961.3L380.6 966.7L381.0 986.5L381.4 985.5L381.8 942.3L382.2 945.7L382.6 972.4L383.0 971.5L383.4 953.6L383.8 971.0L384.2 965.4L384.6 958.2L385.0 944.8L385.4 974.9L385.8 982.8L386.2 977.8L386.6 981.0L387.0 971.5L387.4 951.1L387.8 954.6L388.2 975.5L388.6 978.0L389.0 962.6L389.4 942.3L389.8 963.4L390.2 932.6L390.6 983.6L391.0 986.3L391.4 974.1L391.8 973.2L392.2 989.7L392.6 951.0L393.0 958.2L393.4 962.2L393.8 974.5L394.2 987.7L394.6 973.9L395.0 983.2L395.4 969.9L395.8 975.9L396.2 991.0L396.6 971.7L397.0 956.5L397.4 943.5L397.8 977.2L398.2 965.7L398.6 989.3L399.0 956.4L399.4 989.2L399.8 971.0L400.2 974.8L400.6 991.2L401.0 943.9L401.4 953.5L401.8 954.6L402.2 972.5L402.6 953.9L403.0 979.9L403.4 950.9L403.8 988.5L404.2 951.8L404.6 958.4L405.0 975.2L405.4 954.7L405.8 980.1L406.2 961.7L406.6 953.0L407.0 982.3L407.4 951.3L407.8 983.2L408.2 959.9L408.6 959.7L409.0 948.6L409.4 984.8L409.8 974.4L410.2 969.4L410.6 977.7L411.0 952.0L411.4 959.3L411.8 967.8L412.2 959.3L412.6 970.0L413.0 974.9L413.4 961.9L413.8 976.1L414.2 966.0L414.6 964.0L415.0 991.2L415.4 990.1L415.8 974.4L416.2 968.5L416.6 959.8L417.0 972.5L417.4 976.3L417.8 962.6L418.2 977.3L418.6 986.8L419.0 969.7L419.4 991.8L419.8 963.2L420.2 970.8L420.6 972.8L421.0 955.8L421.4 976.8L421.8 984.0L422.2 982.1L422.6 974.5L423.0 975.2L423.4 956.5L423.8 963.2L424.2 973.0L424.6 982.4L425.0 984.9L425.4 975.2L425.8 953.4L426.2 979.9L426.6 987.3L427.0 952.4L427.4 959.1L427.8 975.3L428.2 969.3L428.6 982.3L429.0 991.1L429.4 982.7L429.8 970.5L430.2 985.5L430.6 970.0L431.0 963.3L431.4 985.4L431.8 969.7L432.2 990.7L432.6 972.1L433.0 987.1L433.4 965.1L433.8 973.4L434.2 977.4L434.6 955.8L435.0 959.8L435.4 968.4L435.8 970.1L436.2 949.5L436.6 964.9L437.0 981.1L437.4 965.7L437.8 989.1L438.2 972.2L438.6 957.9L439.0 986.5L439.4 960.9L439.8 959.8L440.2 985.9L440.6 991.7L441.0 971.4L441.4 970.9L441.8 969.6L442.2 962.4L442.6 976.1L443.0 962.4L443.4 963.2L443.8 977.7L444.2 990.4L444.6 986.0L445.0 980.0L445.4 978.8L445.8 954.9L446.2 978.8L446.6 963.8L447.0 956.6L447.4 968.6L447.8 967.4L448.2 963.3L448.6 958.8L449.0 972.6L449.4 979.5L449.8 976.8L450.2 968.9L450.6 985.4L451.0 983.2L451.4 986.3L451.8 965.7L452.2 981.7L452.6 956.6L453.0 979.1L453.4 951.3L453.8 955.1L454.2 963.4L454.6 968.3L455.0 988.5L455.4 959.9L455.8 963.7L456.2 981.9L456.6 984.5L457.0 959.5L457.4 953.2L457.8 962.9L458.2 958.7L458.6 967.0L459.0 960.8L459.4 959.8L459.8 956.6L460.2 975.8L460.6 967.2L461.0 955.2L461.4 959.5L461.8 973.5L462.2 953.4L462.6 952.1L463.0 979.0L463.4 959.1L463.8 964.3L464.2 980.2L464.6 964.4L465.0 963.6L465.4 981.0L465.8 990.4L466.2 986.6L466.6 989.4L467.0 973.4L467.4 955.7L467.8 973.2L468.2 955.7L468.6 984.7L469.0 957.0L469.4 955.0L469.8 963.4L470.2 966.9L470.6 975.6L471.0 957.6L471.4 988.1L471.8 950.2L472.2 987.2L472.6 968.1L473.0 965.4L473.4 962.8L473.8 965.0L474.2 953.7L474.6 975.4L475.0 954.3L475.4 948.4L475.8 954.1L476.2 956.2L476.6 965.4L477.0 985.2L477.4 974.2L477.8 953.6L478.2 984.0L478.6 963.8L479.0 963.9L479.4 979.5L479.8 983.3L480.2 960.2L480.6 956.7L481.0 958.6L481.4 951.6L481.8 960.3L482.2 957.3L482.6 959.6L483.0 948.2L483.4 975.7L483.8 976.5L484.2 955.5L484.6 977.8L485.0 980.9L485.4 973.0L485.8 979.6L486.2 985.3L486.6 962.4L487.0 950.6L487.4 973.6L487.8 963.9L488.2 966.0L488.6 973.4L489.0 985.7L489.4 973.7L489.8 974.1L490.2 960.5L490.6 965.2L491.0 962.1L491.4 979.1L491.8 985.3L492.2 953.4L492.6 974.2L493.0 979.4L493.4 985.7L493.8 976.8L494.2 980.4L494.6 948.2L495.0 977.0L495.4 981.0L495.8 981.5L496.2 945.9L496.6 961.4L497.0 962.6L497.4 933.3L497.8 958.9L498.2 916.8L498.6 906.8L499.0 908.3L499.4 875.5L499.8 885.0L500.2 877.9L500.6 837.4L501.0 818.2L501.4 791.1L501.8 788.1L502.2 738.7L502.6 747.1L503.0 746.3L503.4 750.6L503.8 732.3L504.2 736.7L504.6 771.7L505.0 765.1L505.4 788.9L505.8 826.5L506.2 827.7L506.6 840.0L507.0 866.3L507.4 884.1L507.8 893.1L508.2 910.2L508.6 935.1L509.0 955.8L509.4 924.7L509.8 944.4L510.2 964.9L510.6 941.6L511.0 950.6L511.4 959.4L511.8 946.3L512.2 951.8L512.6 972.9L513.0 966.6L513.4 948.8L513.8 948.4L514.2 947.2L514.6 949.3L515.0 954.5L515.4 955.3L515.8 946.2L516.2 951.7L516.6 954.3L517.0 954.2L517.4 969.6L517.8 976.5L518.2 953.9L518.6 961.9L519.0 990.5L519.4 981.6L519.8 973.1L520.2 978.7L520.6 950.9L521.0 947.8L521.4 958.9L521.8 961.3L522.2 978.6L522.6 943.4L523.0 970.3L523.4 961.3L523.8 965.1L524.2 950.7L524.6 970.2L525.0 970.6L525.4 953.8L525.8 964.2L526.2 953.5L526.6 947.8L527.0 960.7L527.4 948.9L527.8 959.1L528.2 984.9L528.6 959.0L529.0 979.4L529.4 962.7L529.8 983.8L530.2 988.7L530.6 955.2L531.0 984.7L531.4 984.4L531.8 961.0L532.2 956.8L532.6 987.5L533.0 964.3L533.4 971.8L533.8 963.5L534.2 952.7L534.6 982.8L535.0 974.1L535.4 958.9L535.8 980.4L536.2 980.1L536.6 961.3L537.0 990.5L537.4 979.4L537.8 989.6L538.2 992.5L538.6 962.8L539.0 977.5L539.4 990.6L539.8 981.1L540.2 969.8L540.6 977.2L541.0 971.6L541.4 988.0L541.8 974.7L542.2 988.2L542.6 992.9L543.0 982.7L543.4 984.4L543.8 980.2L544.2 975.1L544.6 981.2L545.0 992.4L545.4 993.3L545.8 990.0L546.2 973.6L546.6 990.2L547.0 995.3L547.4 994.7L547.8 992.4L548.2 990.4L548.6 992.8L549.0 974.4L549.4 982.5L549.8 978.8L550.2 977.4L550.6 988.8L551.0 990.1L551.4 969.9L551.8 985.1L552.2 988.6L552.6 981.2L553.0 997.0L553.4 982.0L553.8 979.6L554.2 992.7L554.6 975.0L555.0 983.9L555.4 995.5L555.8 975.9L556.2 983.9L556.6 977.4L557.0 993.6L557.4 991.2L557.8 994.2L558.2 986.6L558.6 973.5L559.0 976.0L559.4 979.9L559.8 992.3L560.2 975.1L560.6 979.9L561.0 989.6L561.4 992.8L561.8 977.7L562.2 984.6L562.6 996.4L563.0 985.2L563.4 977.4L563.8 996.5L564.2 973.2L564.6 982.1L565.0 975.1L565.4 977.8L565.8 970.2L566.2 978.9L566.6 975.6L567.0 981.8L567.4 973.8L567.8 984.9L568.2 965.4L568.6 985.4L569.0 984.3L569.4 971.3L569.8 969.4L570.2 965.4L570.6 980.9L571.0 972.0L571.4 967.6L571.8 979.2L572.2 964.7L572.6 978.9L573.0 966.7L573.4 968.9L573.8 970.1L574.2 987.0L574.6 966.0L575.0 965.5L575.4 977.6L575.8 986.7L576.2 985.0L576.6 976.2L577.0 976.4L577.4 969.8L577.8 984.1L578.2 993.5L578.6 975.1L579.0 991.6L579.4 995.5L579.8 992.6L580.2 969.7L580.6 991.3L581.0 986.2L581.4 976.7L581.8 979.2L582.2 994.9L582.6 999.0L583.0 992.4L583.4 975.7L583.8 987.5L584.2 974.7L584.6 993.2L585.0 995.4L585.4 998.4L585.8 985.6L586.2 969.8L586.6 979.0L587.0 996.4L587.4 980.4L587.8 975.1L588.2 982.9L588.6 972.6L589.0 973.7L589.4 981.2L589.8 972.8L590.2 988.0L590.6 976.0L591.0 990.7L591.4 983.9L591.8 990.5L592.2 989.8L592.6 994.7L593.0 982.8L593.4 991.3L593.8 979.2L594.2 978.1L594.6 973.8L595.0 994.7L595.4 973.3L595.8 980.1L596.2 970.6L596.6 994.1L597.0 984.3L597.4 986.4L597.8 987.6L598.2 970.8L598.6 990.0L599.0 974.5L599.4 978.5L599.8 975.9L600.2 974.9L600.6 994.1L601.0 981.3L601.4 977.5L601.8 984.7L602.2 986.9L602.6 974.5L603.0 979.0L603.4 982.7L603.8 977.0L604.2 983.4L604.6 989.1L605.0 972.8L605.4 978.0L605.8 984.0L606.2 983.9L606.6 973.8L607.0 983.9L607.4 977.4L607.8 982.4L608.2 985.9L608.6 972.5L609.0 983.1L609.4 969.9L609.8 979.1L610.2 960.8L610.6 953.0L611.0 968.3L611.4 968.1L611.8 954.0L612.2 954.3L612.6 965.2L613.0 948.5L613.4 968.1L613.8 948.9L614.2 974.4L614.6 960.7L615.0 959.5L615.4 952.0L615.8 966.4L616.2 978.3L616.6 958.9L617.0 978.2L617.4 965.5L617.8 973.6L618.2 969.9L618.6 960.8L619.0 980.9L619.4 980.4L619.8 966.8L620.2 993.4L620.6 981.6L621.0 974.8L621.4 981.6L621.8 987.3L622.2 976.7L622.6 992.7L623.0 986.8L623.4 966.1L623.8 980.2L624.2 973.7L624.6 976.7L625.0 978.8L625.4 977.1L625.8 999.5L626.2 991.3L626.6 981.1L627.0 1001.7L627.4 972.4L627.8 977.4L628.2 974.0L628.6 987.9L629.0 990.3L629.4 983.2L629.8 997.4L630.2 983.2L630.6 1000.4L631.0 976.2L631.4 992.0L631.8 975.7L632.2 988.0L632.6 999.3L633.0 983.7L633.4 977.4L633.8 997.3L634.2 993.6L634.6 970.9L635.0 978.3L635.4 985.9L635.8 993.1L636.2 981.8L636.6 979.7L637.0 993.2L637.4 966.5L637.8 955.5L638.2 953.5L638.6 955.5L639.0 956.5L639.4 954.5L639.8 956.5L640.2 990.4L640.6 972.9L641.0 981.8L641.4 976.5L641.8 981.1L642.2 996.6L642.6 976.3L643.0 986.4L643.4 981.7L643.8 970.0L644.2 974.4L644.6 986.6L645.0 969.8L645.4 987.9L645.8 998.1L646.2 970.8L646.6 991.9L647.0 983.6L647.4 979.5L647.8 979.2L648.2 993.0L648.6 997.6L649.0 999.7L649.4 987.7L649.8 973.5L650.2 991.7L650.6 997.5L651.0 999.5L651.4 975.1L651.8 985.0L652.2 985.9L652.6 984.8L653.0 982.1L653.4 969.2L653.8 988.9L654.2 976.2L654.6 982.6L655.0 982.1L655.4 982.7L655.8 992.7L656.2 978.2L656.6 971.5L657.0 980.8L657.4 998.7L657.8 981.1L658.2 999.4L658.6 975.1L659.0 993.3L659.4 1003.8L659.8 1001.6L660.2 993.1L660.6 991.7L661.0 990.0L661.4 987.9L661.8 974.2L662.2 997.2L662.6 979.1L663.0 981.8L663.4 980.5L663.8 985.1L664.2 980.9L664.6 984.9L665.0 991.1L665.4 997.1L665.8 975.8L666.2 980.8L666.6 985.0L667.0 983.1L667.4 998.4L667.8 993.3L668.2 983.6L668.6 995.4L669.0 984.5L669.4 978.0L669.8 978.9L670.2 998.2L670.6 991.3L671.0 991.3L671.4 968.9L671.8 984.1L672.2 993.9L672.6 972.0L673.0 965.1L673.4 996.6L673.8 991.2L674.2 987.7L674.6 986.6L675.0 991.8L675.4 965.5L675.8 969.2L676.2 978.2L676.6 971.4L677.0 967.4L677.4 993.8L677.8 978.5L678.2 980.0L678.6 967.2L679.0 990.7L679.4 995.6L679.8 974.7L680.2 998.3L680.6 971.0L681.0 974.6L681.4 972.4L681.8 977.2L682.2 997.8L682.6 990.3L683.0 992.9L683.4 991.8L683.8 972.3L684.2 977.4L684.6 983.4L685.0 971.6L685.4 966.2L685.8 988.0L686.2 968.4L686.6 969.6L687.0 964.4L687.4 996.0L687.8 982.9L688.2 991.0L688.6 989.7L689.0 994.8L689.4 977.8L689.8 983.3L690.2 992.7L690.6 970.7L691.0 982.4L691.4 994.9L691.8 989.7L692.2 978.4L692.6 996.7L693.0 966.0L693.4 966.5L693.8 975.8L694.2 981.8L694.6 962.5L695.0 993.2L695.4 966.0L695.8 962.2L696.2 988.8L696.6 976.6L697.0 971.6L697.4 962.8L697.8 985.9L698.2 963.6L698.6 964.3L699.0 982.9L699.4 968.6L699.8 978.2L700.2 964.8L700.6 963.5L701.0 957.9L701.4 952.4L701.8 921.3L702.2 932.6L702.6 926.3L703.0 892.1L703.4 872.8L703.8 843.8L704.2 834.2L704.6 829.6L705.0 814.8L705.4 782.9L705.8 782.8L706.2 772.0L706.6 775.8L707.0 803.0L707.4 808.4L707.8 837.3L708.2 855.5L708.6 865.2L709.0 894.1L709.4 917.6L709.8 911.1L710.2 916.4L710.6 927.3L711.0 950.0L711.4 954.3L711.8 963.4L712.2 949.1L712.6 954.7L713.0 958.0L713.4 964.8L713.8 972.7L714.2 975.2L714.6 976.3L715.0 964.3L715.4 958.5L715.8 967.6L716.2 963.5L716.6 975.6L717.0 970.7L717.4 981.5L717.8 971.7L718.2 959.9L718.6 974.2L719.0 971.1L719.4 973.7L719.8 952.0L720.2 971.1L720.6 958.5L721.0 964.8L721.4 950.0L721.8 963.0L722.2 975.7L722.6 979.0L723.0 977.0L723.4 971.0L723.8 971.3L724.2 956.1L724.6 962.5L725.0 954.5L725.4 964.4L725.8 977.9L726.2 974.6L726.6 965.0L727.0 978.4L727.4 975.4L727.8 982.2L728.2 981.8L728.6 963.3L729.0 972.8L729.4 961.9L729.8 955.9L730.2 981.6L730.6 981.7L731.0 964.6L731.4 980.7L731.8 977.5L732.2 959.1L732.6 981.0L733.0 957.4L733.4 957.4L733.8 986.4L734.2 977.6L734.6 961.9L735.0 990.4L735.4 965.7L735.8 986.2L736.2 983.7L736.6 977.6L737.0 973.2L737.4 988.7L737.8 981.3L738.2 968.8L738.6 985.3L739.0 989.4L739.4 978.6L739.8 973.4L740.2 968.1L740.6 982.9L741.0 990.4L741.4 992.7L741.8 975.5L742.2 979.0L742.6 984.5L743.0 992.4L743.4 984.0L743.8 995.0L744.2 981.5L744.6 991.2L745.0 982.1L745.4 975.0L745.8 973.5L746.2 971.7L746.6 989.4L747.0 992.3L747.4 997.1L747.8 980.3L748.2 985.4L748.6 980.4L749.0 978.3L749.4 1000.2L749.8 994.4L750.2 954.5L750.6 952.5L751.0 954.5L751.4 972.0L751.8 970.5L752.2 984.8L752.6 982.0L753.0 993.4L753.4 994.0L753.8 982.4L754.2 981.7L754.6 970.2L755.0 990.6L755.4 974.1L755.8 1001.5L756.2 978.7L756.6 977.6L757.0 982.0L757.4 980.0L757.8 991.6L758.2 984.7L758.6 981.3L759.0 973.6L759.4 971.8L759.8 973.4L760.2 975.3L760.6 982.4L761.0 980.1L761.4 979.1L761.8 994.7L762.2 976.8L762.6 978.6L763.0 969.4L763.4 989.9L763.8 980.6L764.2 975.5L764.6 967.4L765.0 991.5L765.4 969.0L765.8 986.2L766.2 975.9L766.6 975.6L767.0 971.0L767.4 989.3L767.8 997.4L768.2 974.0L768.6 992.3L769.0 969.2L769.4 991.5L769.8 994.0L770.2 975.6L770.6 970.1L771.0 970.4L771.4 990.8L771.8 989.3L772.2 987.5L772.6 998.8L773.0 978.6L773.4 985.9L773.8 985.7L774.2 976.5L774.6 972.6L775.0 988.1L775.4 984.7L775.8 977.4L776.2 977.8L776.6 992.6L777.0 972.7L777.4 975.6L777.8 985.6L778.2 974.9L778.6 971.2L779.0 986.6L779.4 981.4L779.8 977.2L780.2 989.1L780.6 979.4L781.0 991.1L781.4 995.0L781.8 985.0L782.2 983.2L782.6 985.7L783.0 978.5L783.4 981.5L783.8 987.6L784.2 980.7L784.6 984.1L785.0 968.1L785.4 969.7L785.8 984.0L786.2 974.9L786.6 960.4L787.0 983.1L787.4 960.7L787.8 963.6L788.2 980.7L788.6 966.4L789.0 967.1L789.4 972.5L789.8 939.9L790.2 962.4L790.6 948.4L791.0 945.1L791.4 935.1L791.8 948.1L792.2 958.8L792.6 953.8L793.0 942.9L793.4 963.9L793.8 971.7L794.2 959.3L794.6 978.2L795.0 975.5L795.4 974.5L795.8 973.2L796.2 979.5L796.6 977.2L797.0 969.4L797.4 968.0L797.8 978.7L798.2 971.3L798.6 977.9L799.0 994.5L799.4 993.2L799.8 975.8L800.2 972.0L800.6 996.7L801.0 968.0L801.4 976.7L801.8 973.6L802.2 967.6L802.6 991.7L803.0 982.9L803.4 986.7L803.8 994.2L804.2 982.6L804.6 990.1L805.0 982.0L805.4 997.9L805.8 997.5L806.2 969.0L806.6 980.8L807.0 997.2L807.4 975.0L807.8 989.4L808.2 973.3L808.6 978.9L809.0 992.1L809.4 981.0L809.8 970.5L810.2 992.6L810.6 979.7L811.0 992.4L811.4 978.6L811.8 984.4L812.2 978.0L812.6 977.6L813.0 995.2L813.4 974.8L813.8 980.2L814.2 991.7L814.6 991.8L815.0 988.4L815.4 972.1L815.8 972.2L816.2 978.3L816.6 973.6L817.0 974.8L817.4 987.4L817.8 970.5L818.2 994.7L818.6 998.7L819.0 975.6L819.4 991.3L819.8 985.7L820.2 982.2L820.6 997.2L821.0 968.1L821.4 995.0L821.8 977.9L822.2 984.0L822.6 987.8L823.0 982.5L823.4 983.0L823.8 980.0L824.2 972.8L824.6 987.8L825.0 998.5L825.4 977.4L825.8 975.4L826.2 971.8L826.6 994.0L827.0 995.2L827.4 987.6L827.8 990.0L828.2 987.6L828.6 991.4L829.0 977.9L829.4 998.0L829.8 987.6L830.2 994.3L830.6 994.8L831.0 970.7L831.4 994.8L831.8 992.5L832.2 972.3L832.6 990.8L833.0 971.6L833.4 969.0L833.8 987.5L834.2 976.9L834.6 989.6L835.0 986.6L835.4 983.2L835.8 975.3L836.2 996.4L836.6 991.5L837.0 975.1L837.4 994.0L837.8 979.8L838.2 998.5L838.6 988.0L839.0 989.9L839.4 996.3L839.8 995.4L840.2 986.2L840.6 990.6L841.0 974.8L841.4 994.3L841.8 989.4L842.2 988.8L842.6 981.2L843.0 977.1L843.4 972.4L843.8 990.0L844.2 989.5L844.6 987.7L845.0 993.3L845.4 972.5L845.8 981.4L846.2 978.6L846.6 979.2L847.0 976.8L847.4 988.7L847.8 987.5L848.2 994.8L848.6 972.2L849.0 979.1L849.4 978.1L849.8 971.8L850.2 980.5L850.6 972.4L851.0 962.9L851.4 985.3L851.8 990.8L852.2 974.5L852.6 970.0L853.0 977.5L853.4 965.5L853.8 964.9L854.2 965.1L854.6 970.0L855.0 974.4L855.4 963.9L855.8 989.6L856.2 975.3L856.6 980.7L857.0 988.5L857.4 963.6L857.8 978.3L858.2 977.7L858.6 973.2L859.0 970.3L859.4 976.9L859.8 981.9L860.2 966.7L860.6 981.8L861.0 964.5L861.4 975.3L861.8 963.7L862.2 965.6L862.6 975.6L863.0 951.6L863.4 961.7L863.8 958.4L864.2 958.1L864.6 958.4L865.0 936.9L865.4 935.7L865.8 929.6L866.2 920.4L866.6 897.7L867.0 878.3L867.4 859.2L867.8 860.9L868.2 837.7L868.6 834.8L869.0 844.3L869.4 853.3L869.8 849.5L870.2 848.2L870.6 855.0L871.0 866.6L871.4 874.2L871.8 909.8L872.2 908.5L872.6 928.9L873.0 917.4L873.4 930.0L873.8 933.6L874.2 927.6L874.6 950.6L875.0 945.7L875.4 945.5L875.8 937.4L876.2 944.7L876.6 952.2L877.0 940.7L877.4 961.2L877.8 946.6L878.2 957.2L878.6 955.3L879.0 943.8L879.4 949.3L879.8 945.2L880.2 961.2L880.6 970.3L881.0 968.0L881.4 953.6L881.8 968.4L882.2 974.9L882.6 969.5L883.0 978.4L883.4 960.8L883.8 967.1L884.2 966.6L884.6 961.8L885.0 966.3L885.4 965.8L885.8 985.1L886.2 986.7L886.6 980.3L887.0 984.4L887.4 977.4L887.8 969.9L888.2 981.6L888.6 983.9L889.0 989.7L889.4 979.4L889.8 966.0L890.2 982.4L890.6 979.6L891.0 969.6L891.4 974.1L891.8 985.0L892.2 974.7L892.6 977.1L893.0 985.3L893.4 973.4L893.8 990.1L894.2 985.8L894.6 983.4L895.0 988.2L895.4 975.5L895.8 973.9L896.2 989.3L896.6 996.5L897.0 987.2L897.4 991.5L897.8 992.8L898.2 975.7L898.6 986.5L899.0 986.4L899.4 979.7L899.8 980.5L900.2 973.0L900.6 984.2L901.0 973.8L901.4 999.0L901.8 977.2L902.2 998.0L902.6 993.2L903.0 988.4L903.4 997.2L903.8 993.8L904.2 975.8L904.6 996.7L905.0 975.5L905.4 994.0L905.8 980.4L906.2 972.4L906.6 987.8L907.0 979.0L907.4 992.9L907.8 979.9L908.2 978.8L908.6 978.6L909.0 990.2L909.4 971.6L909.8 978.2L910.2 973.4L910.6 977.7L911.0 971.8L911.4 997.6L911.8 971.6L912.2 971.2L912.6 991.7L913.0 984.1L913.4 986.7L913.8 993.0L914.2 993.8L914.6 990.0L915.0 991.1L915.4 994.5L915.8 981.8L916.2 996.7L916.6 996.1L917.0 994.2L917.4 970.1L917.8 986.4L918.2 991.8L918.6 973.5L919.0 975.8L919.4 978.5L919.8 973.0L920.2 980.8L920.6 973.1L921.0 982.8L921.4 974.8L921.8 978.2L922.2 994.0L922.6 969.4L923.0 990.0L923.4 988.0L923.8 991.1L924.2 977.5L924.6 981.9L925.0 993.6L925.4 999.3L925.8 988.0L926.2 998.6L926.6 989.4L927.0 981.9L927.4 993.9L927.8 978.4L928.2 988.0L928.6 993.0L929.0 970.0L929.4 974.6L929.8 974.2L930.2 983.3L930.6 988.3L931.0 977.4L931.4 995.7L931.8 985.2L932.2 973.2L932.6 987.3L933.0 973.2L933.4 984.4L933.8 987.3L934.2 991.7L934.6 992.4L935.0 991.5L935.4 988.9L935.8 996.8L936.2 974.2L936.6 989.1L937.0 990.4L937.4 978.7L937.8 974.4L938.2 975.7L938.6 975.6L939.0 990.0L939.4 987.3L939.8 981.0L940.2 990.2L940.6 976.3L941.0 991.7L941.4 969.8L941.8 976.9L942.2 984.8L942.6 993.4L943.0 996.7L943.4 992.5L943.8 980.5L944.2 992.3L944.6 983.2L945.0 977.6L945.4 985.3L945.8 998.5L946.2 974.9L946.6 985.0L947.0 981.2L947.4 988.9L947.8 978.0L948.2 974.5L948.6 995.4L949.0 976.0L949.4 991.1L949.8 982.5L950.2 984.3L950.6 985.7L951.0 991.6L951.4 975.0L951.8 978.8L952.2 995.5L952.6 971.5L953.0 959.1L953.4 957.1L953.8 959.1L954.2 995.5L954.6 986.9L955.0 995.1L955.4 975.3L955.8 984.0L956.2 978.2L956.6 971.1L957.0 987.5L957.4 980.3L957.8 986.5L958.2 990.9L958.6 994.8L959.0 983.9L959.4 976.7L959.8 970.8L960.2 995.3L960.6 987.2L961.0 991.4L961.4 976.6L961.8 987.5L962.2 989.2L962.6 988.2L963.0 981.0L963.4 976.4L963.8 990.9L964.2 973.1L964.6 987.3L965.0 979.1L965.4 979.4L965.8 987.1L966.2 983.6L966.6 977.5L967.0 983.2L967.4 985.8L967.8 973.9L968.2 997.8L968.6 985.5L969.0 979.8L969.4 996.7L969.8 994.4L970.2 981.7L970.6 984.2L971.0 997.3L971.4 992.3L971.8 984.2L972.2 988.8L972.6 986.0L973.0 993.4L973.4 984.5L973.8 982.0L974.2 990.5L974.6 980.0L975.0 981.0L975.4 992.9L975.8 983.4L976.2 995.6L976.6 983.6L977.0 973.2L977.4 990.4L977.8 997.7L978.2 987.4L978.6 991.6L979.0 992.8L979.4 987.5L979.8 977.9L980.2 977.7L980.6 989.0L981.0 974.0L981.4 995.7L981.8 986.8L982.2 995.2L982.6 978.4L983.0 981.5L983.4 989.4L983.8 984.3L984.2 973.4L984.6 996.4L985.0 976.9L985.4 979.6L985.8 984.1L986.2 970.0L986.6 985.9L987.0 988.6L987.4 987.8L987.8 983.9L988.2 978.9L988.6 975.8L989.0 974.2L989.4 994.9L989.8 969.5L990.2 972.3L990.6 970.7L991.0 978.6L991.4 978.7L991.8 987.8L992.2 984.1L992.6 992.7L993.0 979.9L993.4 970.2L993.8 974.5L994.2 989.6L994.6 976.5L995.0 971.2L995.4 971.5L995.8 978.3L996.2 985.4L996.6 989.0L997.0 986.5L997.4 976.1L997.8 979.1L998.2 992.6L998.6 979.8L999.0 993.8L999.4 985.0L999.8 984.1L1000.2 986.8L1000.6 985.9L1001.0 981.1L1001.4 984.4L1001.8 976.0L1002.2 982.9L1002.6 974.0L1003.0 988.1L1003.4 984.0L1003.8 967.6L1004.2 975.8L1004.6 984.8L1005.0 977.1L1005.4 969.8L1005.8 977.0L1006.2 970.6L1006.6 980.9L1007.0 976.8L1007.4 954.2L1007.8 954.0L1008.2 963.1L1008.6 952.5L1009.0 945.6L1009.4 929.7L1009.8 927.6L1010.2 909.7L1010.6 915.3L1011.0 906.8L1011.4 903.7L1011.8 894.9L1012.2 891.6L1012.6 904.7L1013.0 912.3L1013.4 921.7L1013.8 923.1L1014.2 934.1L1014.6 939.8L1015.0 950.1L1015.4 944.5L1015.8 967.7L1016.2 969.1L1016.6 976.5L1017.0 973.2L1017.4 984.7L1017.8 962.9L1018.2 964.9L1018.6 985.9L1019.0 981.9L1019.4 978.4L1019.8 978.0L1020.2 981.3L1020.6 993.2L1021.0 991.2L1021.4 974.5L1021.8 972.4L1022.2 986.3L1022.6 994.4L1023.0 988.7L1023.4 974.6L1023.8 992.3L1024.2 974.2L1024.6 992.9L1025.0 990.6L1025.4 986.2L1025.8 994.1L1026.2 978.6L1026.6 974.5L1027.0 992.8L1027.4 973.1L1027.8 980.5L1028.2 983.6L1028.6 978.8L1029.0 988.2L1029.4 987.9L1029.8 984.0L1030.2 995.9L1030.6 990.9L1031.0 995.3L1031.4 976.3L1031.8 981.6L1032.2 991.6L1032.6 994.5L1033.0 993.0L1033.4 975.4L1033.8 981.3L1034.2 974.7L1034.6 995.7L1035.0 986.1L1035.4 975.6L1035.8 980.1L1036.2 976.0L1036.6 979.3L1037.0 991.5L1037.4 975.8L1037.8 994.9L1038.2 975.9L1038.6 992.9L1039.0 981.0L1039.4 991.7L1039.8 989.4L1040.2 988.3L1040.6 994.7L1041.0 981.5L1041.4 984.1L1041.8 979.9L1042.2 992.2L1042.6 984.7L1043.0 976.6L1043.4 979.7L1043.8 992.4L1044.2 986.7L1044.6 994.5L1045.0 982.9L1045.4 989.6L1045.8 992.1L1046.2 991.6L1046.6 988.4L1047.0 983.7L1047.4 989.1L1047.8 996.7L1048.2 983.4L1048.6 983.0L1049.0 978.6L1049.4 984.1L1049.8 991.9L1050.2 991.3L1050.6 996.5L1051.0 992.6L1051.4 989.6L1051.8 987.2L1052.2 981.1L1052.6 978.0L1053.0 979.8L1053.4 977.3L1053.8 980.8L1054.2 992.7L1054.6 980.4L1055.0 998.7L1055.4 988.1L1055.8 982.5L1056.2 991.9L1056.6 996.7L1057.0 976.2L1057.4 996.7L1057.8 996.7L1058.2 976.2L1058.6 990.8L1059.0 979.1L1059.4 990.8L1059.8 988.3L1060.2 980.7L1060.6 992.1L1061.0 994.8L1061.4 993.1L1061.8 975.3L1062.2 979.6L1062.6 989.7L1063.0 988.8L1063.4 970.2L1063.8 986.3L1064.2 974.8L1064.6 994.9L1065.0 986.8L1065.4 987.1L1065.8 991.0L1066.2 983.3L1066.6 978.6L1067.0 989.5L1067.4 978.9L1067.8 979.5L1068.2 982.9L1068.6 991.3L1069.0 992.6L1069.4 996.8L1069.8 994.7L1070.2 993.6L1070.6 973.7L1071.0 981.2L1071.4 985.4L1071.8 980.6L1072.2 990.5L1072.6 975.0L1073.0 985.9L1073.4 982.4L1073.8 978.8L1074.2 983.5L1074.6 990.7L1075.0 980.9L1075.4 970.2L1075.8 989.0L1076.2 979.3L1076.6 972.5L1077.0 973.3L1077.4 971.9L1077.8 969.6L1078.2 967.1L1078.6 971.5L1079.0 987.9L1079.4 987.9L1079.8 969.7L1080.2 976.3L1080.6 970.6L1081.0 978.0L1081.4 975.8L1081.8 978.4L1082.2 956.5L1082.6 954.5L1083.0 956.5L1083.4 970.3L1083.8 984.5L1084.2 988.6L1084.6 972.6L1085.0 972.3L1085.4 985.2L1085.8 980.7L1086.2 988.9L1086.6 987.3L1087.0 974.0L1087.4 987.1L1087.8 990.2L1088.2 990.9L1088.6 985.9L1089.0 970.0L1089.4 980.5L1089.8 989.6L1090.2 985.7L1090.6 983.7L1091.0 984.0L1091.4 993.6L1091.8 985.1L1092.2 983.3L1092.6 972.6L1093.0 975.5L1093.4 975.2L1093.8 982.9L1094.2 978.2L1094.6 985.8L1095.0 983.0L1095.4 984.8L1095.8 995.9L1096.2 987.7L1096.6 983.3L1097.0 978.7L1097.4 973.8L1097.8 979.6L1098.2 986.1L1098.6 995.0L1099.0 980.0L1099.4 992.3L1099.8 990.1L1100.2 983.5L1100.6 984.3L1101.0 981.2L1101.4 983.8L1101.8 980.0L1102.2 980.0L1102.6 983.8L1103.0 979.9L1103.4 994.4L1103.8 974.8L1104.2 992.0L1104.6 972.4L1105.0 978.0L1105.4 979.3L1105.8 982.5L1106.2 992.4L1106.6 972.8L1107.0 984.3L1107.4 975.5L1107.8 972.2L1108.2 990.7L1108.6 983.7L1109.0 972.1L1109.4 980.8L1109.8 972.5L1110.2 973.9L1110.6 979.9L1111.0 977.9L1111.4 981.6L1111.8 982.9L1112.2 993.5L1112.6 990.3L1113.0 997.1L1113.4 1000.1L1113.8 1000.5L1114.2 1002.6L1114.6 990.3L1115.0 988.9L1115.4 982.8L1115.8 985.1L1116.2 991.5L1116.6 996.3L1117.0 980.6L1117.4 981.1L1117.8 991.5L1118.2 985.6L1118.6 988.4L1119.0 977.5L1119.4 981.6L1119.8 984.0L1120.2 978.5L1120.6 986.0L1121.0 988.1L1121.4 980.7L1121.8 984.3L1122.2 989.8L1122.6 986.7L1123.0 977.8L1123.4 993.1L1123.8 989.9L1124.2 987.9L1124.6 981.6L1125.0 994.2L1125.4 993.7L1125.8 979.2L1126.2 1001.2L1126.6 978.7L1127.0 988.8L1127.4 982.0L1127.8 980.3L1128.2 996.4L1128.6 1000.7L1129.0 991.1L1129.4 979.3L1129.8 982.8"/>
</g>
<g font-family="'Liberation Serif', serif" fill="#000">
<text transform="translate(313.66,1437.5) scale(1.0192,1)" font-size="56">20</text>
<text transform="translate(628.29,1437.5) scale(1.0113,1)" font-size="56">40</text>
<text transform="translate(940.41,1437.5) scale(1.0442,1)" font-size="56">60</text>
<text transform="translate(444.46,104.7) scale(1.0181,1)" font-size="56.5">(110)</text>
<text transform="translate(645.61,162.9) scale(0.9941,1)" font-size="56.5">(200)</text>
<text transform="translate(805.76,217.2) scale(1.0224,1)" font-size="56.5">(211)</text>
<text transform="translate(552.03,301.4) scale(1.036,1)" font-size="56.5">(111)</text>
<text transform="translate(729.91,292.7) scale(0.9958,1)" font-size="56.5">(210)</text>
<text transform="translate(957.71,262.2) scale(0.9949,1)" font-size="56.5">(220)</text>
<text transform="translate(308.54,250.8) scale(0.9785,1)" font-size="51">(100)</text>
<text transform="translate(707.73,1142.8) scale(0.9745,1)" font-size="57">JCPDS:82-1334</text>
<text transform="translate(213.17,210) scale(1.0627,1)" font-size="58" font-weight="bold">(d)</text>
<text transform="translate(209.89,487.7) scale(1.055,1)" font-size="58" font-weight="bold">(c)</text>
<text transform="translate(206.3,805) scale(1.0522,1)" font-size="58" font-weight="bold">(b)</text>
<text transform="translate(209.94,1107.8) scale(1.0286,1)" font-size="58" font-weight="bold">(a)</text>
<text transform="translate(397.0,1531.2) scale(0.9992,1)" font-size="76.7" font-weight="bold">2 Theta(degree)</text>
<text transform="translate(88.6,915) rotate(-90) scale(0.964,1)" font-size="79" font-weight="bold">intensity(a.u.)</text>
</g>
</svg>
</body></html>
